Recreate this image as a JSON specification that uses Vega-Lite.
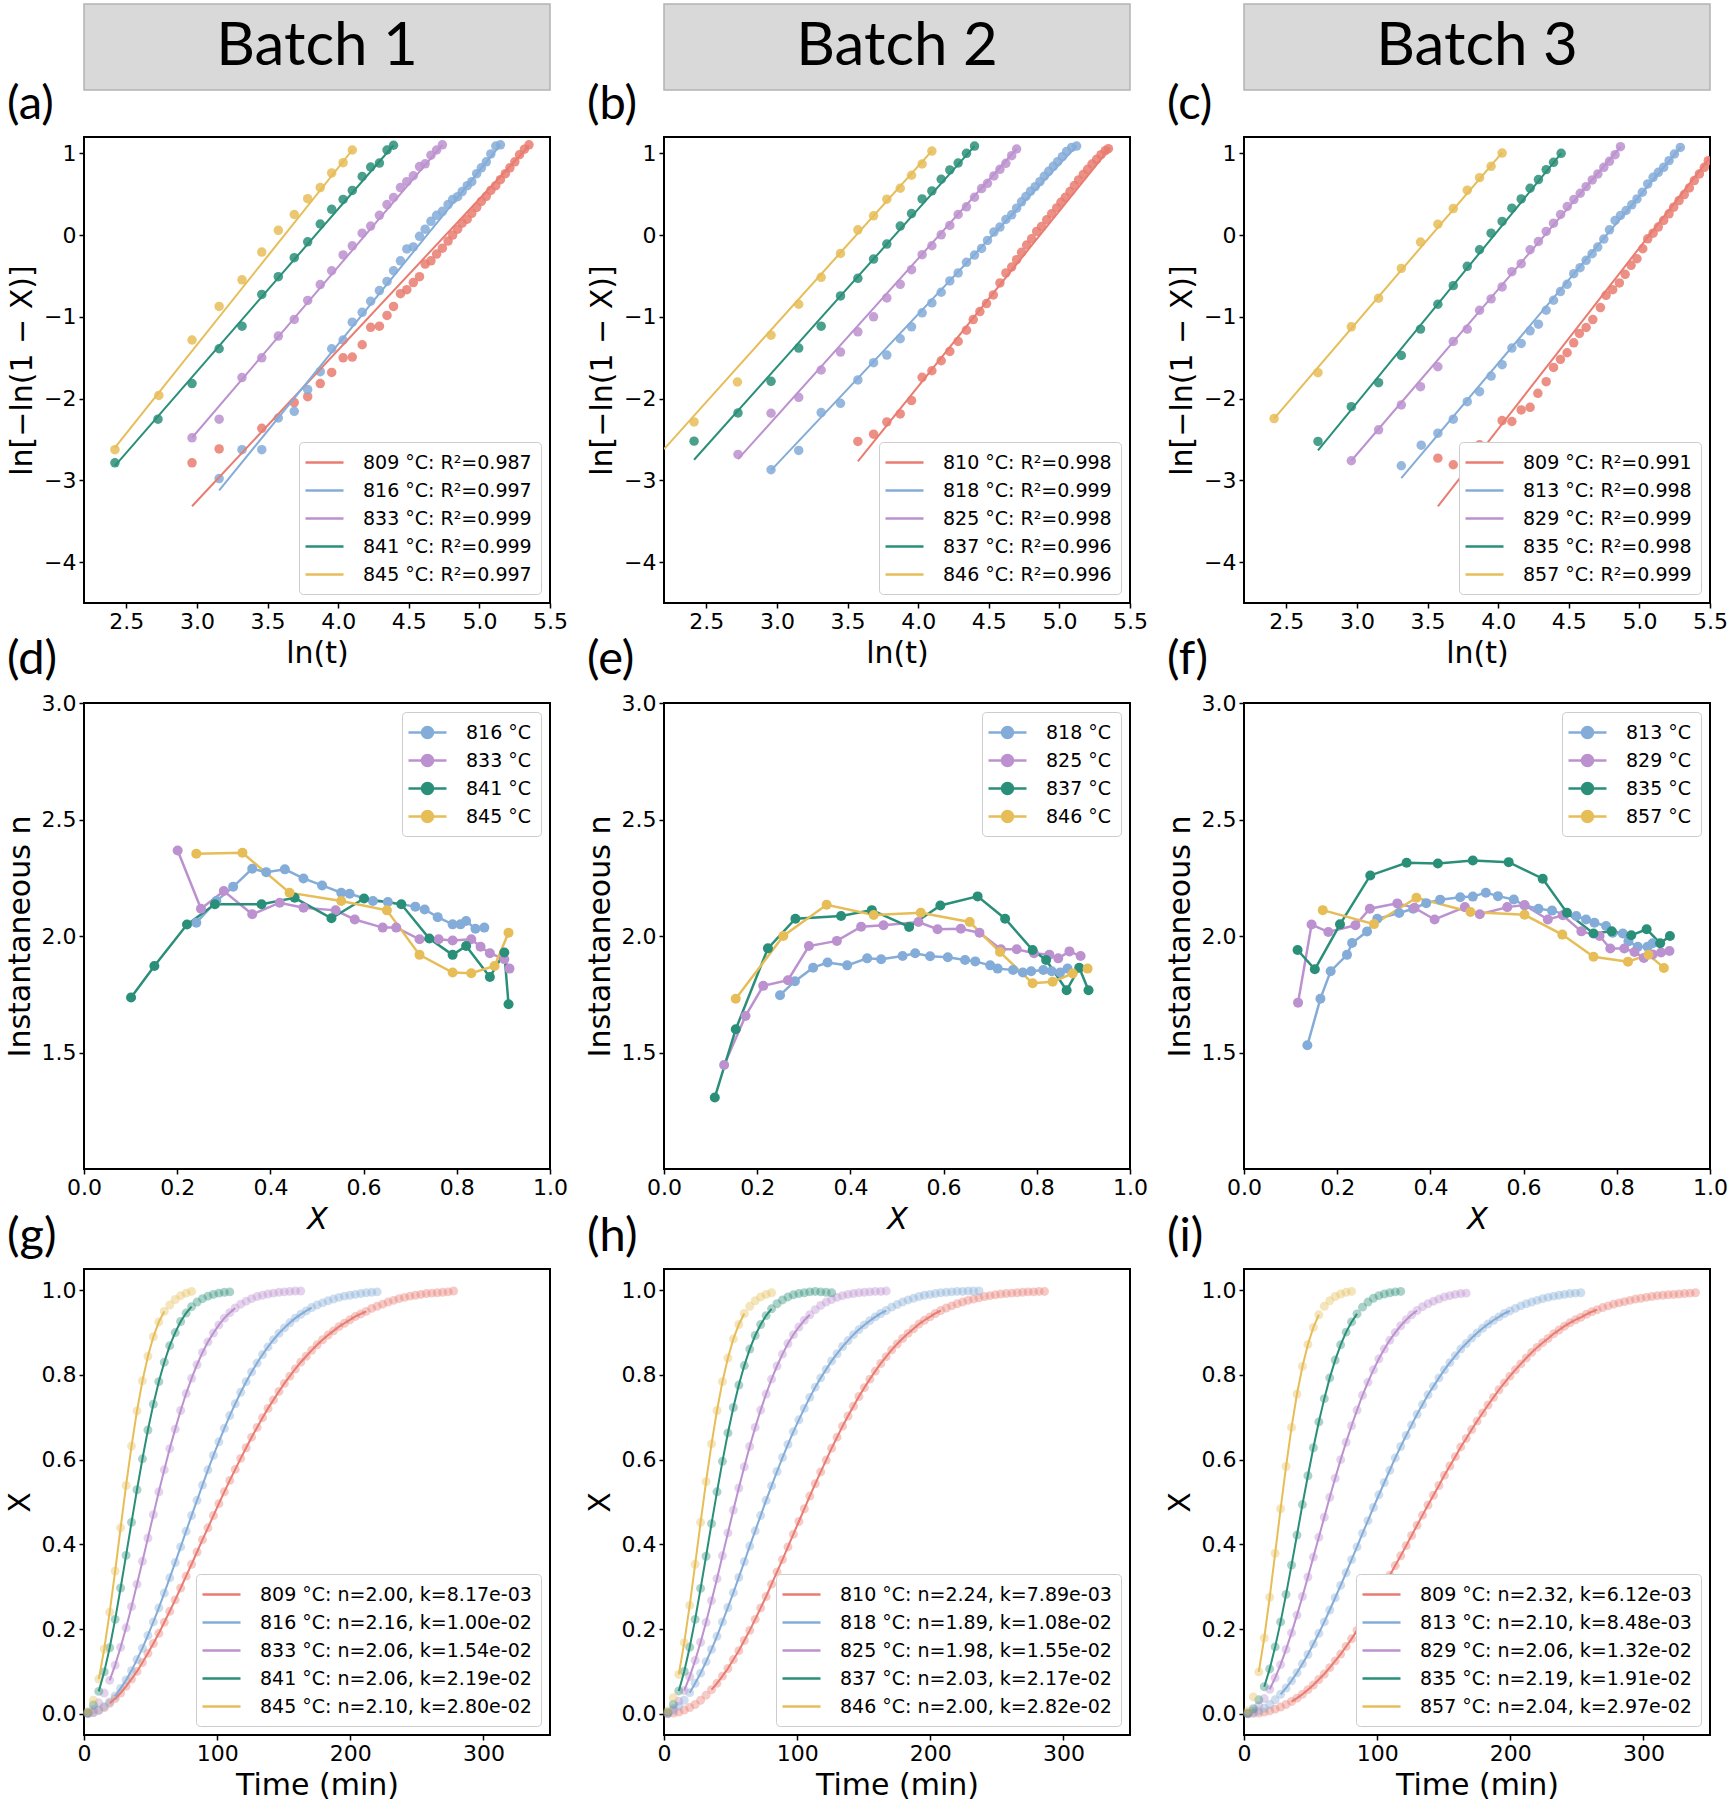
{
  "$schema": "https://vega.github.io/schema/vega-lite/v6.json",
  "background": "white",
  "padding": {"left": 4, "top": 3, "right": 5, "bottom": 5},
  "config": {
    "font": "DejaVu Sans",
    "view": {"stroke": "black", "strokeWidth": 2},
    "axis": {"grid": false, "domain": false, "tickColor": "black", "tickSize": 5, "tickWidth": 1.5, "labelFont": "DejaVu Sans", "labelFontSize": 22, "labelColor": "black", "labelPadding": 3, "labelFlush": false, "labelOverlap": false, "labelBound": false, "titleFont": "DejaVu Sans", "titleFontSize": 30, "titleFontWeight": "normal", "titleColor": "black", "titlePadding": 6},
    "legend": {"labelFont": "DejaVu Sans", "labelFontSize": 19, "labelColor": "black", "fillColor": "white", "strokeColor": "#cccccc", "cornerRadius": 4, "padding": 9, "rowPadding": 6, "labelOffset": 27, "symbolOffset": 5, "symbolSize": 400, "offset": 9, "labelLimit": 400},
    "title": {"font": "Lato", "fontSize": 47, "fontWeight": "normal", "anchor": "start", "frame": "group", "baseline": "bottom", "offset": 8, "dx": -77, "color": "black"}
  },
  "datasets": {
    "AF": [
      {"p":"a","s":0,"x":2.965,"y":-3.317},{"p":"a","s":0,"x":5.351,"y":1.09},
      {"p":"a","s":1,"x":3.157,"y":-3.123},{"p":"a","s":1,"x":5.149,"y":1.104},
      {"p":"a","s":2,"x":2.965,"y":-2.479},{"p":"a","s":2,"x":4.738,"y":1.104},
      {"p":"a","s":3,"x":2.419,"y":-2.823},{"p":"a","s":3,"x":4.392,"y":1.099},
      {"p":"a","s":4,"x":2.419,"y":-2.6},{"p":"a","s":4,"x":4.1,"y":1.041},
      {"p":"b","s":0,"x":3.573,"y":-2.768},{"p":"b","s":0,"x":5.358,"y":1.065},
      {"p":"b","s":1,"x":2.958,"y":-2.878},{"p":"b","s":1,"x":5.122,"y":1.089},
      {"p":"b","s":2,"x":2.724,"y":-2.74},{"p":"b","s":2,"x":4.697,"y":1.053},
      {"p":"b","s":3,"x":2.413,"y":-2.748},{"p":"b","s":3,"x":4.399,"y":1.089},
      {"p":"b","s":4,"x":2.2,"y":-2.618},{"p":"b","s":4,"x":4.097,"y":1.03},
      {"p":"c","s":0,"x":3.573,"y":-3.317},{"p":"c","s":0,"x":5.5,"y":0.951},
      {"p":"c","s":1,"x":3.314,"y":-2.972},{"p":"c","s":1,"x":5.295,"y":1.08},
      {"p":"c","s":2,"x":2.96,"y":-2.76},{"p":"c","s":2,"x":4.866,"y":1.08},
      {"p":"c","s":3,"x":2.724,"y":-2.634},{"p":"c","s":3,"x":4.446,"y":1.0},
      {"p":"c","s":4,"x":2.413,"y":-2.244},{"p":"c","s":4,"x":4.028,"y":1.01}
    ],
    "A": [
      {"p":"a","s":0,"x":2.965,"y":-2.785},{"p":"a","s":0,"x":3.157,"y":-2.615},{"p":"a","s":0,"x":3.459,"y":-2.363},{"p":"a","s":0,"x":3.689,"y":-2.048},{"p":"a","s":0,"x":3.784,"y":-1.976},{"p":"a","s":0,"x":3.873,"y":-1.816},{"p":"a","s":0,"x":3.954,"y":-1.68},{"p":"a","s":0,"x":4.035,"y":-1.501},{"p":"a","s":0,"x":4.1,"y":-1.492},{"p":"a","s":0,"x":4.17,"y":-1.341},{"p":"a","s":0,"x":4.23,"y":-1.128},{"p":"a","s":0,"x":4.292,"y":-1.114},{"p":"a","s":0,"x":4.346,"y":-0.983},{"p":"a","s":0,"x":4.392,"y":-0.872},{"p":"a","s":0,"x":4.441,"y":-0.717},{"p":"a","s":0,"x":4.486,"y":-0.668},{"p":"a","s":0,"x":4.532,"y":-0.581},{"p":"a","s":0,"x":4.576,"y":-0.508},{"p":"a","s":0,"x":4.616,"y":-0.354},{"p":"a","s":0,"x":4.657,"y":-0.315},{"p":"a","s":0,"x":4.697,"y":-0.232},{"p":"a","s":0,"x":4.738,"y":-0.16},{"p":"a","s":0,"x":4.778,"y":-0.073},{"p":"a","s":0,"x":4.811,"y":0.0},{"p":"a","s":0,"x":4.846,"y":0.073},{"p":"a","s":0,"x":4.878,"y":0.145},{"p":"a","s":0,"x":4.914,"y":0.194},{"p":"a","s":0,"x":4.946,"y":0.266},{"p":"a","s":0,"x":4.981,"y":0.339},{"p":"a","s":0,"x":5.014,"y":0.412},{"p":"a","s":0,"x":5.049,"y":0.475},{"p":"a","s":0,"x":5.081,"y":0.547},{"p":"a","s":0,"x":5.116,"y":0.605},{"p":"a","s":0,"x":5.149,"y":0.678},{"p":"a","s":0,"x":5.184,"y":0.751},{"p":"a","s":0,"x":5.216,"y":0.823},{"p":"a","s":0,"x":5.251,"y":0.896},{"p":"a","s":0,"x":5.284,"y":0.983},{"p":"a","s":0,"x":5.319,"y":1.051},{"p":"a","s":0,"x":5.351,"y":1.104},
      {"p":"a","s":1,"x":3.157,"y":-2.978},{"p":"a","s":1,"x":3.319,"y":-2.625},{"p":"a","s":1,"x":3.459,"y":-2.625},{"p":"a","s":1,"x":3.576,"y":-2.237},{"p":"a","s":1,"x":3.689,"y":-2.155},{"p":"a","s":1,"x":3.784,"y":-1.889},{"p":"a","s":1,"x":3.873,"y":-1.671},{"p":"a","s":1,"x":3.954,"y":-1.39},{"p":"a","s":1,"x":4.035,"y":-1.283},{"p":"a","s":1,"x":4.1,"y":-1.065},{"p":"a","s":1,"x":4.17,"y":-0.944},{"p":"a","s":1,"x":4.23,"y":-0.809},{"p":"a","s":1,"x":4.292,"y":-0.678},{"p":"a","s":1,"x":4.346,"y":-0.567},{"p":"a","s":1,"x":4.392,"y":-0.436},{"p":"a","s":1,"x":4.441,"y":-0.315},{"p":"a","s":1,"x":4.486,"y":-0.169},{"p":"a","s":1,"x":4.532,"y":-0.145},{"p":"a","s":1,"x":4.576,"y":-0.015},{"p":"a","s":1,"x":4.616,"y":0.073},{"p":"a","s":1,"x":4.657,"y":0.169},{"p":"a","s":1,"x":4.697,"y":0.242},{"p":"a","s":1,"x":4.738,"y":0.291},{"p":"a","s":1,"x":4.778,"y":0.373},{"p":"a","s":1,"x":4.811,"y":0.436},{"p":"a","s":1,"x":4.846,"y":0.47},{"p":"a","s":1,"x":4.878,"y":0.533},{"p":"a","s":1,"x":4.914,"y":0.605},{"p":"a","s":1,"x":4.946,"y":0.654},{"p":"a","s":1,"x":4.981,"y":0.751},{"p":"a","s":1,"x":5.014,"y":0.823},{"p":"a","s":1,"x":5.049,"y":0.896},{"p":"a","s":1,"x":5.081,"y":0.993},{"p":"a","s":1,"x":5.116,"y":1.09},{"p":"a","s":1,"x":5.149,"y":1.104},
      {"p":"a","s":2,"x":2.965,"y":-2.479},{"p":"a","s":2,"x":3.157,"y":-2.252},{"p":"a","s":2,"x":3.319,"y":-1.743},{"p":"a","s":2,"x":3.459,"y":-1.501},{"p":"a","s":2,"x":3.576,"y":-1.235},{"p":"a","s":2,"x":3.689,"y":-1.031},{"p":"a","s":2,"x":3.784,"y":-0.799},{"p":"a","s":2,"x":3.873,"y":-0.605},{"p":"a","s":2,"x":3.954,"y":-0.436},{"p":"a","s":2,"x":4.035,"y":-0.242},{"p":"a","s":2,"x":4.1,"y":-0.131},{"p":"a","s":2,"x":4.17,"y":0.024},{"p":"a","s":2,"x":4.23,"y":0.111},{"p":"a","s":2,"x":4.292,"y":0.242},{"p":"a","s":2,"x":4.346,"y":0.373},{"p":"a","s":2,"x":4.392,"y":0.46},{"p":"a","s":2,"x":4.441,"y":0.581},{"p":"a","s":2,"x":4.486,"y":0.654},{"p":"a","s":2,"x":4.532,"y":0.726},{"p":"a","s":2,"x":4.576,"y":0.838},{"p":"a","s":2,"x":4.616,"y":0.872},{"p":"a","s":2,"x":4.657,"y":0.978},{"p":"a","s":2,"x":4.697,"y":1.041},{"p":"a","s":2,"x":4.738,"y":1.104},
      {"p":"a","s":3,"x":2.419,"y":-2.785},{"p":"a","s":3,"x":2.724,"y":-2.252},{"p":"a","s":3,"x":2.965,"y":-1.816},{"p":"a","s":3,"x":3.157,"y":-1.39},{"p":"a","s":3,"x":3.319,"y":-1.114},{"p":"a","s":3,"x":3.459,"y":-0.726},{"p":"a","s":3,"x":3.576,"y":-0.508},{"p":"a","s":3,"x":3.689,"y":-0.276},{"p":"a","s":3,"x":3.784,"y":-0.082},{"p":"a","s":3,"x":3.873,"y":0.136},{"p":"a","s":3,"x":3.954,"y":0.315},{"p":"a","s":3,"x":4.035,"y":0.436},{"p":"a","s":3,"x":4.1,"y":0.547},{"p":"a","s":3,"x":4.17,"y":0.717},{"p":"a","s":3,"x":4.23,"y":0.833},{"p":"a","s":3,"x":4.292,"y":0.881},{"p":"a","s":3,"x":4.346,"y":1.041},{"p":"a","s":3,"x":4.392,"y":1.099},
      {"p":"a","s":4,"x":2.419,"y":-2.625},{"p":"a","s":4,"x":2.73,"y":-1.961},{"p":"a","s":4,"x":2.965,"y":-1.283},{"p":"a","s":4,"x":3.157,"y":-0.872},{"p":"a","s":4,"x":3.319,"y":-0.547},{"p":"a","s":4,"x":3.459,"y":-0.208},{"p":"a","s":4,"x":3.576,"y":0.058},{"p":"a","s":4,"x":3.689,"y":0.252},{"p":"a","s":4,"x":3.784,"y":0.446},{"p":"a","s":4,"x":3.873,"y":0.581},{"p":"a","s":4,"x":3.954,"y":0.76},{"p":"a","s":4,"x":4.035,"y":0.886},{"p":"a","s":4,"x":4.1,"y":1.041},
      {"p":"b","s":0,"x":3.573,"y":-2.524},{"p":"b","s":0,"x":3.684,"y":-2.435},{"p":"b","s":0,"x":3.778,"y":-2.285},{"p":"b","s":0,"x":3.873,"y":-2.187},{"p":"b","s":0,"x":3.953,"y":-2.024},{"p":"b","s":0,"x":4.028,"y":-1.74},{"p":"b","s":0,"x":4.097,"y":-1.659},{"p":"b","s":0,"x":4.163,"y":-1.537},{"p":"b","s":0,"x":4.224,"y":-1.423},{"p":"b","s":0,"x":4.283,"y":-1.301},{"p":"b","s":0,"x":4.342,"y":-1.163},{"p":"b","s":0,"x":4.39,"y":-1.033},{"p":"b","s":0,"x":4.437,"y":-0.935},{"p":"b","s":0,"x":4.484,"y":-0.837},{"p":"b","s":0,"x":4.532,"y":-0.732},{"p":"b","s":0,"x":4.579,"y":-0.585},{"p":"b","s":0,"x":4.621,"y":-0.463},{"p":"b","s":0,"x":4.662,"y":-0.39},{"p":"b","s":0,"x":4.697,"y":-0.301},{"p":"b","s":0,"x":4.732,"y":-0.211},{"p":"b","s":0,"x":4.768,"y":-0.122},{"p":"b","s":0,"x":4.803,"y":-0.045},{"p":"b","s":0,"x":4.839,"y":0.045},{"p":"b","s":0,"x":4.874,"y":0.106},{"p":"b","s":0,"x":4.91,"y":0.187},{"p":"b","s":0,"x":4.945,"y":0.26},{"p":"b","s":0,"x":4.981,"y":0.333},{"p":"b","s":0,"x":5.011,"y":0.402},{"p":"b","s":0,"x":5.042,"y":0.463},{"p":"b","s":0,"x":5.075,"y":0.533},{"p":"b","s":0,"x":5.106,"y":0.606},{"p":"b","s":0,"x":5.136,"y":0.675},{"p":"b","s":0,"x":5.169,"y":0.74},{"p":"b","s":0,"x":5.2,"y":0.805},{"p":"b","s":0,"x":5.231,"y":0.87},{"p":"b","s":0,"x":5.264,"y":0.927},{"p":"b","s":0,"x":5.295,"y":0.984},{"p":"b","s":0,"x":5.325,"y":1.033},{"p":"b","s":0,"x":5.347,"y":1.057},
      {"p":"b","s":1,"x":2.958,"y":-2.87},{"p":"b","s":1,"x":3.154,"y":-2.634},{"p":"b","s":1,"x":3.313,"y":-2.171},{"p":"b","s":1,"x":3.45,"y":-2.057},{"p":"b","s":1,"x":3.573,"y":-1.772},{"p":"b","s":1,"x":3.684,"y":-1.561},{"p":"b","s":1,"x":3.778,"y":-1.467},{"p":"b","s":1,"x":3.873,"y":-1.268},{"p":"b","s":1,"x":3.953,"y":-1.122},{"p":"b","s":1,"x":4.028,"y":-0.951},{"p":"b","s":1,"x":4.097,"y":-0.829},{"p":"b","s":1,"x":4.163,"y":-0.699},{"p":"b","s":1,"x":4.224,"y":-0.561},{"p":"b","s":1,"x":4.283,"y":-0.463},{"p":"b","s":1,"x":4.342,"y":-0.333},{"p":"b","s":1,"x":4.399,"y":-0.244},{"p":"b","s":1,"x":4.449,"y":-0.163},{"p":"b","s":1,"x":4.491,"y":-0.065},{"p":"b","s":1,"x":4.536,"y":0.037},{"p":"b","s":1,"x":4.579,"y":0.098},{"p":"b","s":1,"x":4.621,"y":0.191},{"p":"b","s":1,"x":4.662,"y":0.248},{"p":"b","s":1,"x":4.697,"y":0.329},{"p":"b","s":1,"x":4.732,"y":0.407},{"p":"b","s":1,"x":4.763,"y":0.472},{"p":"b","s":1,"x":4.796,"y":0.537},{"p":"b","s":1,"x":4.829,"y":0.593},{"p":"b","s":1,"x":4.862,"y":0.654},{"p":"b","s":1,"x":4.893,"y":0.72},{"p":"b","s":1,"x":4.924,"y":0.78},{"p":"b","s":1,"x":4.957,"y":0.841},{"p":"b","s":1,"x":4.988,"y":0.898},{"p":"b","s":1,"x":5.021,"y":0.959},{"p":"b","s":1,"x":5.051,"y":1.024},{"p":"b","s":1,"x":5.087,"y":1.073},{"p":"b","s":1,"x":5.122,"y":1.089},
      {"p":"b","s":2,"x":2.724,"y":-2.683},{"p":"b","s":2,"x":2.958,"y":-2.179},{"p":"b","s":2,"x":3.154,"y":-1.984},{"p":"b","s":2,"x":3.313,"y":-1.65},{"p":"b","s":2,"x":3.45,"y":-1.431},{"p":"b","s":2,"x":3.573,"y":-1.183},{"p":"b","s":2,"x":3.684,"y":-1.0},{"p":"b","s":2,"x":3.778,"y":-0.768},{"p":"b","s":2,"x":3.873,"y":-0.602},{"p":"b","s":2,"x":3.953,"y":-0.423},{"p":"b","s":2,"x":4.028,"y":-0.24},{"p":"b","s":2,"x":4.097,"y":-0.13},{"p":"b","s":2,"x":4.163,"y":0.004},{"p":"b","s":2,"x":4.224,"y":0.118},{"p":"b","s":2,"x":4.283,"y":0.252},{"p":"b","s":2,"x":4.342,"y":0.346},{"p":"b","s":2,"x":4.399,"y":0.463},{"p":"b","s":2,"x":4.449,"y":0.569},{"p":"b","s":2,"x":4.491,"y":0.634},{"p":"b","s":2,"x":4.536,"y":0.724},{"p":"b","s":2,"x":4.579,"y":0.805},{"p":"b","s":2,"x":4.621,"y":0.878},{"p":"b","s":2,"x":4.662,"y":0.972},{"p":"b","s":2,"x":4.697,"y":1.053},
      {"p":"b","s":3,"x":2.413,"y":-2.52},{"p":"b","s":3,"x":2.724,"y":-2.175},{"p":"b","s":3,"x":2.958,"y":-1.789},{"p":"b","s":3,"x":3.154,"y":-1.382},{"p":"b","s":3,"x":3.313,"y":-1.114},{"p":"b","s":3,"x":3.45,"y":-0.744},{"p":"b","s":3,"x":3.573,"y":-0.528},{"p":"b","s":3,"x":3.684,"y":-0.293},{"p":"b","s":3,"x":3.778,"y":-0.11},{"p":"b","s":3,"x":3.873,"y":0.11},{"p":"b","s":3,"x":3.953,"y":0.264},{"p":"b","s":3,"x":4.028,"y":0.443},{"p":"b","s":3,"x":4.097,"y":0.541},{"p":"b","s":3,"x":4.163,"y":0.683},{"p":"b","s":3,"x":4.224,"y":0.797},{"p":"b","s":3,"x":4.283,"y":0.882},{"p":"b","s":3,"x":4.342,"y":1.0},{"p":"b","s":3,"x":4.399,"y":1.089},
      {"p":"b","s":4,"x":2.413,"y":-2.285},{"p":"b","s":4,"x":2.72,"y":-1.797},{"p":"b","s":4,"x":2.958,"y":-1.224},{"p":"b","s":4,"x":3.154,"y":-0.846},{"p":"b","s":4,"x":3.313,"y":-0.516},{"p":"b","s":4,"x":3.45,"y":-0.224},{"p":"b","s":4,"x":3.573,"y":0.065},{"p":"b","s":4,"x":3.684,"y":0.236},{"p":"b","s":4,"x":3.778,"y":0.439},{"p":"b","s":4,"x":3.873,"y":0.573},{"p":"b","s":4,"x":3.953,"y":0.732},{"p":"b","s":4,"x":4.028,"y":0.87},{"p":"b","s":4,"x":4.097,"y":1.028},
      {"p":"c","s":0,"x":3.573,"y":-2.728},{"p":"c","s":0,"x":3.682,"y":-2.809},{"p":"c","s":0,"x":3.868,"y":-2.565},{"p":"c","s":0,"x":3.95,"y":-2.606},{"p":"c","s":0,"x":4.028,"y":-2.268},{"p":"c","s":0,"x":4.097,"y":-2.28},{"p":"c","s":0,"x":4.163,"y":-2.138},{"p":"c","s":0,"x":4.226,"y":-2.106},{"p":"c","s":0,"x":4.281,"y":-1.935},{"p":"c","s":0,"x":4.34,"y":-1.793},{"p":"c","s":0,"x":4.392,"y":-1.618},{"p":"c","s":0,"x":4.441,"y":-1.52},{"p":"c","s":0,"x":4.488,"y":-1.439},{"p":"c","s":0,"x":4.535,"y":-1.317},{"p":"c","s":0,"x":4.575,"y":-1.203},{"p":"c","s":0,"x":4.623,"y":-1.13},{"p":"c","s":0,"x":4.67,"y":-1.033},{"p":"c","s":0,"x":4.724,"y":-0.886},{"p":"c","s":0,"x":4.764,"y":-0.736},{"p":"c","s":0,"x":4.811,"y":-0.667},{"p":"c","s":0,"x":4.858,"y":-0.585},{"p":"c","s":0,"x":4.899,"y":-0.48},{"p":"c","s":0,"x":4.941,"y":-0.37},{"p":"c","s":0,"x":4.983,"y":-0.289},{"p":"c","s":0,"x":5.024,"y":-0.167},{"p":"c","s":0,"x":5.059,"y":-0.045},{"p":"c","s":0,"x":5.097,"y":0.024},{"p":"c","s":0,"x":5.134,"y":0.098},{"p":"c","s":0,"x":5.172,"y":0.179},{"p":"c","s":0,"x":5.21,"y":0.26},{"p":"c","s":0,"x":5.243,"y":0.341},{"p":"c","s":0,"x":5.281,"y":0.423},{"p":"c","s":0,"x":5.318,"y":0.496},{"p":"c","s":0,"x":5.354,"y":0.577},{"p":"c","s":0,"x":5.389,"y":0.667},{"p":"c","s":0,"x":5.425,"y":0.748},{"p":"c","s":0,"x":5.46,"y":0.829},{"p":"c","s":0,"x":5.488,"y":0.911},
      {"p":"c","s":1,"x":3.314,"y":-2.821},{"p":"c","s":1,"x":3.455,"y":-2.569},{"p":"c","s":1,"x":3.573,"y":-2.423},{"p":"c","s":1,"x":3.682,"y":-2.252},{"p":"c","s":1,"x":3.781,"y":-2.037},{"p":"c","s":1,"x":3.868,"y":-1.915},{"p":"c","s":1,"x":3.95,"y":-1.724},{"p":"c","s":1,"x":4.028,"y":-1.585},{"p":"c","s":1,"x":4.097,"y":-1.382},{"p":"c","s":1,"x":4.163,"y":-1.325},{"p":"c","s":1,"x":4.226,"y":-1.171},{"p":"c","s":1,"x":4.285,"y":-1.089},{"p":"c","s":1,"x":4.34,"y":-0.919},{"p":"c","s":1,"x":4.392,"y":-0.797},{"p":"c","s":1,"x":4.441,"y":-0.691},{"p":"c","s":1,"x":4.488,"y":-0.602},{"p":"c","s":1,"x":4.535,"y":-0.472},{"p":"c","s":1,"x":4.58,"y":-0.398},{"p":"c","s":1,"x":4.623,"y":-0.309},{"p":"c","s":1,"x":4.665,"y":-0.228},{"p":"c","s":1,"x":4.705,"y":-0.146},{"p":"c","s":1,"x":4.748,"y":-0.049},{"p":"c","s":1,"x":4.788,"y":0.065},{"p":"c","s":1,"x":4.828,"y":0.179},{"p":"c","s":1,"x":4.866,"y":0.24},{"p":"c","s":1,"x":4.906,"y":0.301},{"p":"c","s":1,"x":4.946,"y":0.37},{"p":"c","s":1,"x":4.983,"y":0.443},{"p":"c","s":1,"x":5.021,"y":0.524},{"p":"c","s":1,"x":5.059,"y":0.626},{"p":"c","s":1,"x":5.097,"y":0.707},{"p":"c","s":1,"x":5.134,"y":0.768},{"p":"c","s":1,"x":5.172,"y":0.829},{"p":"c","s":1,"x":5.21,"y":0.911},{"p":"c","s":1,"x":5.248,"y":0.992},{"p":"c","s":1,"x":5.29,"y":1.073},
      {"p":"c","s":2,"x":2.96,"y":-2.76},{"p":"c","s":2,"x":3.153,"y":-2.382},{"p":"c","s":2,"x":3.314,"y":-2.077},{"p":"c","s":2,"x":3.45,"y":-1.854},{"p":"c","s":2,"x":3.573,"y":-1.61},{"p":"c","s":2,"x":3.682,"y":-1.301},{"p":"c","s":2,"x":3.781,"y":-1.15},{"p":"c","s":2,"x":3.868,"y":-0.919},{"p":"c","s":2,"x":3.95,"y":-0.78},{"p":"c","s":2,"x":4.028,"y":-0.634},{"p":"c","s":2,"x":4.097,"y":-0.447},{"p":"c","s":2,"x":4.163,"y":-0.35},{"p":"c","s":2,"x":4.226,"y":-0.179},{"p":"c","s":2,"x":4.285,"y":-0.077},{"p":"c","s":2,"x":4.34,"y":0.045},{"p":"c","s":2,"x":4.392,"y":0.146},{"p":"c","s":2,"x":4.442,"y":0.252},{"p":"c","s":2,"x":4.489,"y":0.35},{"p":"c","s":2,"x":4.536,"y":0.435},{"p":"c","s":2,"x":4.581,"y":0.512},{"p":"c","s":2,"x":4.623,"y":0.593},{"p":"c","s":2,"x":4.666,"y":0.675},{"p":"c","s":2,"x":4.706,"y":0.748},{"p":"c","s":2,"x":4.748,"y":0.829},{"p":"c","s":2,"x":4.788,"y":0.902},{"p":"c","s":2,"x":4.828,"y":0.984},{"p":"c","s":2,"x":4.866,"y":1.081},
      {"p":"c","s":3,"x":2.724,"y":-2.524},{"p":"c","s":3,"x":2.96,"y":-2.098},{"p":"c","s":3,"x":3.153,"y":-1.805},{"p":"c","s":3,"x":3.314,"y":-1.472},{"p":"c","s":3,"x":3.45,"y":-1.15},{"p":"c","s":3,"x":3.573,"y":-0.846},{"p":"c","s":3,"x":3.682,"y":-0.618},{"p":"c","s":3,"x":3.781,"y":-0.382},{"p":"c","s":3,"x":3.868,"y":-0.179},{"p":"c","s":3,"x":3.95,"y":0.024},{"p":"c","s":3,"x":4.028,"y":0.167},{"p":"c","s":3,"x":4.097,"y":0.329},{"p":"c","s":3,"x":4.163,"y":0.443},{"p":"c","s":3,"x":4.226,"y":0.573},{"p":"c","s":3,"x":4.285,"y":0.679},{"p":"c","s":3,"x":4.34,"y":0.801},{"p":"c","s":3,"x":4.392,"y":0.89},{"p":"c","s":3,"x":4.446,"y":1.0},
      {"p":"c","s":4,"x":2.413,"y":-2.244},{"p":"c","s":4,"x":2.724,"y":-1.683},{"p":"c","s":4,"x":2.96,"y":-1.122},{"p":"c","s":4,"x":3.153,"y":-0.772},{"p":"c","s":4,"x":3.314,"y":-0.407},{"p":"c","s":4,"x":3.45,"y":-0.085},{"p":"c","s":4,"x":3.573,"y":0.134},{"p":"c","s":4,"x":3.682,"y":0.325},{"p":"c","s":4,"x":3.781,"y":0.549},{"p":"c","s":4,"x":3.868,"y":0.703},{"p":"c","s":4,"x":3.95,"y":0.841},{"p":"c","s":4,"x":4.028,"y":1.004}
    ],
    "N": [
      {"p":"d","s":1,"x":0.241,"y":2.057},{"p":"d","s":1,"x":0.284,"y":2.15},{"p":"d","s":1,"x":0.32,"y":2.211},{"p":"d","s":1,"x":0.361,"y":2.289},{"p":"d","s":1,"x":0.391,"y":2.274},{"p":"d","s":1,"x":0.431,"y":2.286},{"p":"d","s":1,"x":0.471,"y":2.247},{"p":"d","s":1,"x":0.511,"y":2.217},{"p":"d","s":1,"x":0.552,"y":2.186},{"p":"d","s":1,"x":0.57,"y":2.181},{"p":"d","s":1,"x":0.62,"y":2.15},{"p":"d","s":1,"x":0.652,"y":2.146},{"p":"d","s":1,"x":0.711,"y":2.126},{"p":"d","s":1,"x":0.731,"y":2.114},{"p":"d","s":1,"x":0.759,"y":2.081},{"p":"d","s":1,"x":0.791,"y":2.05},{"p":"d","s":1,"x":0.808,"y":2.05},{"p":"d","s":1,"x":0.82,"y":2.064},{"p":"d","s":1,"x":0.84,"y":2.031},{"p":"d","s":1,"x":0.859,"y":2.036},
      {"p":"d","s":2,"x":0.201,"y":2.367},{"p":"d","s":2,"x":0.251,"y":2.117},{"p":"d","s":2,"x":0.3,"y":2.193},{"p":"d","s":2,"x":0.361,"y":2.093},{"p":"d","s":2,"x":0.42,"y":2.143},{"p":"d","s":2,"x":0.471,"y":2.121},{"p":"d","s":2,"x":0.54,"y":2.11},{"p":"d","s":2,"x":0.581,"y":2.071},{"p":"d","s":2,"x":0.641,"y":2.036},{"p":"d","s":2,"x":0.67,"y":2.036},{"p":"d","s":2,"x":0.72,"y":1.986},{"p":"d","s":2,"x":0.761,"y":1.986},{"p":"d","s":2,"x":0.791,"y":1.981},{"p":"d","s":2,"x":0.831,"y":1.986},{"p":"d","s":2,"x":0.851,"y":1.954},{"p":"d","s":2,"x":0.871,"y":1.926},{"p":"d","s":2,"x":0.902,"y":1.9},{"p":"d","s":2,"x":0.913,"y":1.86},
      {"p":"d","s":3,"x":0.101,"y":1.736},{"p":"d","s":3,"x":0.151,"y":1.871},{"p":"d","s":3,"x":0.221,"y":2.049},{"p":"d","s":3,"x":0.281,"y":2.136},{"p":"d","s":3,"x":0.381,"y":2.136},{"p":"d","s":3,"x":0.452,"y":2.164},{"p":"d","s":3,"x":0.531,"y":2.076},{"p":"d","s":3,"x":0.601,"y":2.161},{"p":"d","s":3,"x":0.681,"y":2.136},{"p":"d","s":3,"x":0.741,"y":1.989},{"p":"d","s":3,"x":0.791,"y":1.919},{"p":"d","s":3,"x":0.82,"y":1.957},{"p":"d","s":3,"x":0.871,"y":1.824},{"p":"d","s":3,"x":0.902,"y":1.929},{"p":"d","s":3,"x":0.911,"y":1.707},
      {"p":"d","s":4,"x":0.241,"y":2.353},{"p":"d","s":4,"x":0.34,"y":2.357},{"p":"d","s":4,"x":0.441,"y":2.186},{"p":"d","s":4,"x":0.552,"y":2.15},{"p":"d","s":4,"x":0.65,"y":2.11},{"p":"d","s":4,"x":0.72,"y":1.919},{"p":"d","s":4,"x":0.791,"y":1.843},{"p":"d","s":4,"x":0.831,"y":1.84},{"p":"d","s":4,"x":0.881,"y":1.871},{"p":"d","s":4,"x":0.911,"y":2.014},
      {"p":"e","s":1,"x":0.249,"y":1.746},{"p":"e","s":1,"x":0.281,"y":1.806},{"p":"e","s":1,"x":0.32,"y":1.864},{"p":"e","s":1,"x":0.351,"y":1.886},{"p":"e","s":1,"x":0.393,"y":1.874},{"p":"e","s":1,"x":0.436,"y":1.904},{"p":"e","s":1,"x":0.466,"y":1.9},{"p":"e","s":1,"x":0.512,"y":1.914},{"p":"e","s":1,"x":0.539,"y":1.926},{"p":"e","s":1,"x":0.571,"y":1.913},{"p":"e","s":1,"x":0.609,"y":1.909},{"p":"e","s":1,"x":0.646,"y":1.897},{"p":"e","s":1,"x":0.668,"y":1.891},{"p":"e","s":1,"x":0.7,"y":1.874},{"p":"e","s":1,"x":0.716,"y":1.86},{"p":"e","s":1,"x":0.749,"y":1.854},{"p":"e","s":1,"x":0.77,"y":1.843},{"p":"e","s":1,"x":0.788,"y":1.849},{"p":"e","s":1,"x":0.814,"y":1.854},{"p":"e","s":1,"x":0.832,"y":1.849},{"p":"e","s":1,"x":0.85,"y":1.843},{"p":"e","s":1,"x":0.866,"y":1.86},
      {"p":"e","s":2,"x":0.129,"y":1.446},{"p":"e","s":2,"x":0.175,"y":1.657},{"p":"e","s":2,"x":0.213,"y":1.786},{"p":"e","s":2,"x":0.266,"y":1.81},{"p":"e","s":2,"x":0.311,"y":1.957},{"p":"e","s":2,"x":0.371,"y":1.979},{"p":"e","s":2,"x":0.423,"y":2.04},{"p":"e","s":2,"x":0.471,"y":2.046},{"p":"e","s":2,"x":0.546,"y":2.06},{"p":"e","s":2,"x":0.587,"y":2.029},{"p":"e","s":2,"x":0.637,"y":2.031},{"p":"e","s":2,"x":0.677,"y":2.014},{"p":"e","s":2,"x":0.723,"y":1.943},{"p":"e","s":2,"x":0.757,"y":1.943},{"p":"e","s":2,"x":0.794,"y":1.926},{"p":"e","s":2,"x":0.827,"y":1.92},{"p":"e","s":2,"x":0.846,"y":1.904},{"p":"e","s":2,"x":0.87,"y":1.934},{"p":"e","s":2,"x":0.894,"y":1.914},
      {"p":"e","s":3,"x":0.109,"y":1.307},{"p":"e","s":3,"x":0.154,"y":1.6},{"p":"e","s":3,"x":0.223,"y":1.947},{"p":"e","s":3,"x":0.282,"y":2.074},{"p":"e","s":3,"x":0.38,"y":2.086},{"p":"e","s":3,"x":0.446,"y":2.111},{"p":"e","s":3,"x":0.526,"y":2.039},{"p":"e","s":3,"x":0.593,"y":2.131},{"p":"e","s":3,"x":0.673,"y":2.17},{"p":"e","s":3,"x":0.732,"y":2.074},{"p":"e","s":3,"x":0.791,"y":1.94},{"p":"e","s":3,"x":0.82,"y":1.897},{"p":"e","s":3,"x":0.864,"y":1.767},{"p":"e","s":3,"x":0.891,"y":1.864},{"p":"e","s":3,"x":0.911,"y":1.767},
      {"p":"e","s":4,"x":0.154,"y":1.731},{"p":"e","s":4,"x":0.256,"y":2.0},{"p":"e","s":4,"x":0.349,"y":2.134},{"p":"e","s":4,"x":0.45,"y":2.09},{"p":"e","s":4,"x":0.551,"y":2.1},{"p":"e","s":4,"x":0.656,"y":2.06},{"p":"e","s":4,"x":0.721,"y":1.931},{"p":"e","s":4,"x":0.791,"y":1.797},{"p":"e","s":4,"x":0.834,"y":1.804},{"p":"e","s":4,"x":0.877,"y":1.839},{"p":"e","s":4,"x":0.909,"y":1.86},
      {"p":"f","s":1,"x":0.136,"y":1.531},{"p":"f","s":1,"x":0.164,"y":1.731},{"p":"f","s":1,"x":0.186,"y":1.849},{"p":"f","s":1,"x":0.221,"y":1.919},{"p":"f","s":1,"x":0.232,"y":1.97},{"p":"f","s":1,"x":0.264,"y":2.019},{"p":"f","s":1,"x":0.286,"y":2.074},{"p":"f","s":1,"x":0.333,"y":2.099},{"p":"f","s":1,"x":0.363,"y":2.117},{"p":"f","s":1,"x":0.391,"y":2.141},{"p":"f","s":1,"x":0.421,"y":2.156},{"p":"f","s":1,"x":0.464,"y":2.166},{"p":"f","s":1,"x":0.491,"y":2.169},{"p":"f","s":1,"x":0.519,"y":2.186},{"p":"f","s":1,"x":0.545,"y":2.171},{"p":"f","s":1,"x":0.579,"y":2.157},{"p":"f","s":1,"x":0.602,"y":2.131},{"p":"f","s":1,"x":0.632,"y":2.117},{"p":"f","s":1,"x":0.661,"y":2.109},{"p":"f","s":1,"x":0.688,"y":2.093},{"p":"f","s":1,"x":0.713,"y":2.086},{"p":"f","s":1,"x":0.734,"y":2.071},{"p":"f","s":1,"x":0.752,"y":2.057},{"p":"f","s":1,"x":0.777,"y":2.043},{"p":"f","s":1,"x":0.791,"y":2.014},{"p":"f","s":1,"x":0.813,"y":2.011},{"p":"f","s":1,"x":0.825,"y":1.977},{"p":"f","s":1,"x":0.845,"y":1.954},{"p":"f","s":1,"x":0.866,"y":1.954},{"p":"f","s":1,"x":0.877,"y":1.969},
      {"p":"f","s":2,"x":0.116,"y":1.714},{"p":"f","s":2,"x":0.145,"y":2.049},{"p":"f","s":2,"x":0.181,"y":2.017},{"p":"f","s":2,"x":0.239,"y":2.046},{"p":"f","s":2,"x":0.27,"y":2.117},{"p":"f","s":2,"x":0.329,"y":2.14},{"p":"f","s":2,"x":0.366,"y":2.121},{"p":"f","s":2,"x":0.409,"y":2.071},{"p":"f","s":2,"x":0.474,"y":2.124},{"p":"f","s":2,"x":0.506,"y":2.093},{"p":"f","s":2,"x":0.565,"y":2.124},{"p":"f","s":2,"x":0.602,"y":2.133},{"p":"f","s":2,"x":0.652,"y":2.071},{"p":"f","s":2,"x":0.684,"y":2.089},{"p":"f","s":2,"x":0.724,"y":2.02},{"p":"f","s":2,"x":0.763,"y":2.0},{"p":"f","s":2,"x":0.786,"y":1.946},{"p":"f","s":2,"x":0.816,"y":1.946},{"p":"f","s":2,"x":0.838,"y":1.931},{"p":"f","s":2,"x":0.858,"y":1.906},{"p":"f","s":2,"x":0.877,"y":1.921},{"p":"f","s":2,"x":0.895,"y":1.929},{"p":"f","s":2,"x":0.913,"y":1.936},
      {"p":"f","s":3,"x":0.115,"y":1.94},{"p":"f","s":3,"x":0.152,"y":1.857},{"p":"f","s":3,"x":0.206,"y":2.05},{"p":"f","s":3,"x":0.271,"y":2.26},{"p":"f","s":3,"x":0.349,"y":2.314},{"p":"f","s":3,"x":0.416,"y":2.311},{"p":"f","s":3,"x":0.491,"y":2.324},{"p":"f","s":3,"x":0.568,"y":2.317},{"p":"f","s":3,"x":0.641,"y":2.246},{"p":"f","s":3,"x":0.693,"y":2.1},{"p":"f","s":3,"x":0.75,"y":2.011},{"p":"f","s":3,"x":0.789,"y":2.02},{"p":"f","s":3,"x":0.831,"y":2.003},{"p":"f","s":3,"x":0.864,"y":2.029},{"p":"f","s":3,"x":0.893,"y":1.969},{"p":"f","s":3,"x":0.914,"y":2.0},
      {"p":"f","s":4,"x":0.169,"y":2.111},{"p":"f","s":4,"x":0.279,"y":2.051},{"p":"f","s":4,"x":0.37,"y":2.164},{"p":"f","s":4,"x":0.486,"y":2.103},{"p":"f","s":4,"x":0.602,"y":2.091},{"p":"f","s":4,"x":0.683,"y":2.006},{"p":"f","s":4,"x":0.75,"y":1.911},{"p":"f","s":4,"x":0.824,"y":1.89},{"p":"f","s":4,"x":0.868,"y":1.92},{"p":"f","s":4,"x":0.901,"y":1.863}
    ],
    "K": [
      {"p":"g","s":0,"t":2.9,"X":0.001},{"p":"g","s":0,"t":7.0,"X":0.003},{"p":"g","s":0,"t":11.1,"X":0.008},{"p":"g","s":0,"t":15.2,"X":0.015},{"p":"g","s":0,"t":19.3,"X":0.025,"f":1},{"p":"g","s":0,"t":23.4,"X":0.036,"f":1},{"p":"g","s":0,"t":27.5,"X":0.049,"f":1},{"p":"g","s":0,"t":31.6,"X":0.065,"f":1},{"p":"g","s":0,"t":35.7,"X":0.082,"f":1},{"p":"g","s":0,"t":39.8,"X":0.1,"f":1},{"p":"g","s":0,"t":43.9,"X":0.121,"f":1},{"p":"g","s":0,"t":48.0,"X":0.143,"f":1},{"p":"g","s":0,"t":52.1,"X":0.166,"f":1},{"p":"g","s":0,"t":56.2,"X":0.19,"f":1},{"p":"g","s":0,"t":60.3,"X":0.216,"f":1},{"p":"g","s":0,"t":64.4,"X":0.242,"f":1},{"p":"g","s":0,"t":68.5,"X":0.269,"f":1},{"p":"g","s":0,"t":72.6,"X":0.297,"f":1},{"p":"g","s":0,"t":76.7,"X":0.325,"f":1},{"p":"g","s":0,"t":80.8,"X":0.353,"f":1},{"p":"g","s":0,"t":84.9,"X":0.382,"f":1},{"p":"g","s":0,"t":89.0,"X":0.411,"f":1},{"p":"g","s":0,"t":93.1,"X":0.439,"f":1},{"p":"g","s":0,"t":97.2,"X":0.468,"f":1},{"p":"g","s":0,"t":101.3,"X":0.496,"f":1},{"p":"g","s":0,"t":105.4,"X":0.524,"f":1},{"p":"g","s":0,"t":109.5,"X":0.551,"f":1},{"p":"g","s":0,"t":113.6,"X":0.577,"f":1},{"p":"g","s":0,"t":117.7,"X":0.603,"f":1},{"p":"g","s":0,"t":121.8,"X":0.628,"f":1},{"p":"g","s":0,"t":125.9,"X":0.653,"f":1},{"p":"g","s":0,"t":130.0,"X":0.676,"f":1},{"p":"g","s":0,"t":134.1,"X":0.699,"f":1},{"p":"g","s":0,"t":138.2,"X":0.721,"f":1},{"p":"g","s":0,"t":142.3,"X":0.741,"f":1},{"p":"g","s":0,"t":146.4,"X":0.761,"f":1},{"p":"g","s":0,"t":150.5,"X":0.78,"f":1},{"p":"g","s":0,"t":154.6,"X":0.797,"f":1},{"p":"g","s":0,"t":158.7,"X":0.814,"f":1},{"p":"g","s":0,"t":162.8,"X":0.83,"f":1},{"p":"g","s":0,"t":166.9,"X":0.844,"f":1},{"p":"g","s":0,"t":171.0,"X":0.858,"f":1},{"p":"g","s":0,"t":175.1,"X":0.871,"f":1},{"p":"g","s":0,"t":179.2,"X":0.883,"f":1},{"p":"g","s":0,"t":183.3,"X":0.894,"f":1},{"p":"g","s":0,"t":187.4,"X":0.904,"f":1},{"p":"g","s":0,"t":191.5,"X":0.914,"f":1},{"p":"g","s":0,"t":195.6,"X":0.922,"f":1},{"p":"g","s":0,"t":199.7,"X":0.93,"f":1},{"p":"g","s":0,"t":203.8,"X":0.938,"f":1},{"p":"g","s":0,"t":207.9,"X":0.944,"f":1},{"p":"g","s":0,"t":212.0,"X":0.95,"f":1},{"p":"g","s":0,"t":216.1,"X":0.957},{"p":"g","s":0,"t":220.2,"X":0.962},{"p":"g","s":0,"t":224.3,"X":0.967},{"p":"g","s":0,"t":228.4,"X":0.972},{"p":"g","s":0,"t":232.5,"X":0.976},{"p":"g","s":0,"t":236.6,"X":0.98},{"p":"g","s":0,"t":240.7,"X":0.983},{"p":"g","s":0,"t":244.8,"X":0.986},{"p":"g","s":0,"t":248.9,"X":0.988},{"p":"g","s":0,"t":253.0,"X":0.99},{"p":"g","s":0,"t":257.1,"X":0.992},{"p":"g","s":0,"t":261.2,"X":0.993},{"p":"g","s":0,"t":265.3,"X":0.994},{"p":"g","s":0,"t":269.4,"X":0.995},{"p":"g","s":0,"t":273.5,"X":0.996},{"p":"g","s":0,"t":277.6,"X":0.998},
      {"p":"g","s":1,"t":2.9,"X":0.0},{"p":"g","s":1,"t":7.0,"X":0.003},{"p":"g","s":1,"t":11.1,"X":0.009},{"p":"g","s":1,"t":15.2,"X":0.017},{"p":"g","s":1,"t":19.3,"X":0.028},{"p":"g","s":1,"t":23.4,"X":0.042,"f":1},{"p":"g","s":1,"t":27.5,"X":0.06,"f":1},{"p":"g","s":1,"t":31.6,"X":0.08,"f":1},{"p":"g","s":1,"t":35.7,"X":0.102,"f":1},{"p":"g","s":1,"t":39.8,"X":0.128,"f":1},{"p":"g","s":1,"t":43.9,"X":0.155,"f":1},{"p":"g","s":1,"t":48.0,"X":0.185,"f":1},{"p":"g","s":1,"t":52.1,"X":0.217,"f":1},{"p":"g","s":1,"t":56.2,"X":0.25,"f":1},{"p":"g","s":1,"t":60.3,"X":0.285,"f":1},{"p":"g","s":1,"t":64.4,"X":0.321,"f":1},{"p":"g","s":1,"t":68.5,"X":0.357,"f":1},{"p":"g","s":1,"t":72.6,"X":0.394,"f":1},{"p":"g","s":1,"t":76.7,"X":0.431,"f":1},{"p":"g","s":1,"t":80.8,"X":0.468,"f":1},{"p":"g","s":1,"t":84.9,"X":0.504,"f":1},{"p":"g","s":1,"t":89.0,"X":0.54,"f":1},{"p":"g","s":1,"t":93.1,"X":0.576,"f":1},{"p":"g","s":1,"t":97.2,"X":0.61,"f":1},{"p":"g","s":1,"t":101.3,"X":0.642,"f":1},{"p":"g","s":1,"t":105.4,"X":0.674,"f":1},{"p":"g","s":1,"t":109.5,"X":0.704,"f":1},{"p":"g","s":1,"t":113.6,"X":0.732,"f":1},{"p":"g","s":1,"t":117.7,"X":0.759,"f":1},{"p":"g","s":1,"t":121.8,"X":0.784,"f":1},{"p":"g","s":1,"t":125.9,"X":0.807,"f":1},{"p":"g","s":1,"t":130.0,"X":0.828,"f":1},{"p":"g","s":1,"t":134.1,"X":0.848,"f":1},{"p":"g","s":1,"t":138.2,"X":0.866,"f":1},{"p":"g","s":1,"t":142.3,"X":0.883,"f":1},{"p":"g","s":1,"t":146.4,"X":0.898,"f":1},{"p":"g","s":1,"t":150.5,"X":0.911,"f":1},{"p":"g","s":1,"t":154.6,"X":0.923,"f":1},{"p":"g","s":1,"t":158.7,"X":0.934,"f":1},{"p":"g","s":1,"t":162.8,"X":0.943,"f":1},{"p":"g","s":1,"t":166.9,"X":0.951,"f":1},{"p":"g","s":1,"t":171.0,"X":0.959,"f":1},{"p":"g","s":1,"t":175.1,"X":0.965},{"p":"g","s":1,"t":179.2,"X":0.97},{"p":"g","s":1,"t":183.3,"X":0.975},{"p":"g","s":1,"t":187.4,"X":0.979},{"p":"g","s":1,"t":191.5,"X":0.983},{"p":"g","s":1,"t":195.6,"X":0.986},{"p":"g","s":1,"t":199.7,"X":0.988},{"p":"g","s":1,"t":203.8,"X":0.99},{"p":"g","s":1,"t":207.9,"X":0.992},{"p":"g","s":1,"t":212.0,"X":0.994},{"p":"g","s":1,"t":216.1,"X":0.995},{"p":"g","s":1,"t":220.2,"X":0.996},
      {"p":"g","s":2,"t":2.9,"X":0.002},{"p":"g","s":2,"t":7.0,"X":0.01},{"p":"g","s":2,"t":11.1,"X":0.026},{"p":"g","s":2,"t":15.2,"X":0.049},{"p":"g","s":2,"t":19.3,"X":0.079,"f":1},{"p":"g","s":2,"t":23.4,"X":0.115,"f":1},{"p":"g","s":2,"t":27.5,"X":0.157,"f":1},{"p":"g","s":2,"t":31.6,"X":0.203,"f":1},{"p":"g","s":2,"t":35.7,"X":0.253,"f":1},{"p":"g","s":2,"t":39.8,"X":0.306,"f":1},{"p":"g","s":2,"t":43.9,"X":0.36,"f":1},{"p":"g","s":2,"t":48.0,"X":0.415,"f":1},{"p":"g","s":2,"t":52.1,"X":0.47,"f":1},{"p":"g","s":2,"t":56.2,"X":0.524,"f":1},{"p":"g","s":2,"t":60.3,"X":0.576,"f":1},{"p":"g","s":2,"t":64.4,"X":0.626,"f":1},{"p":"g","s":2,"t":68.5,"X":0.672,"f":1},{"p":"g","s":2,"t":72.6,"X":0.716,"f":1},{"p":"g","s":2,"t":76.7,"X":0.756,"f":1},{"p":"g","s":2,"t":80.8,"X":0.792,"f":1},{"p":"g","s":2,"t":84.9,"X":0.824,"f":1},{"p":"g","s":2,"t":89.0,"X":0.853,"f":1},{"p":"g","s":2,"t":93.1,"X":0.878,"f":1},{"p":"g","s":2,"t":97.2,"X":0.899,"f":1},{"p":"g","s":2,"t":101.3,"X":0.918,"f":1},{"p":"g","s":2,"t":105.4,"X":0.934,"f":1},{"p":"g","s":2,"t":109.5,"X":0.947,"f":1},{"p":"g","s":2,"t":113.6,"X":0.958,"f":1},{"p":"g","s":2,"t":117.7,"X":0.967},{"p":"g","s":2,"t":121.8,"X":0.974},{"p":"g","s":2,"t":125.9,"X":0.98},{"p":"g","s":2,"t":130.0,"X":0.985},{"p":"g","s":2,"t":134.1,"X":0.988},{"p":"g","s":2,"t":138.2,"X":0.991},{"p":"g","s":2,"t":142.3,"X":0.993},{"p":"g","s":2,"t":146.4,"X":0.995},{"p":"g","s":2,"t":150.5,"X":0.996},{"p":"g","s":2,"t":154.6,"X":0.997},{"p":"g","s":2,"t":158.7,"X":0.998},{"p":"g","s":2,"t":162.8,"X":0.998},
      {"p":"g","s":3,"t":2.9,"X":0.003},{"p":"g","s":3,"t":7.0,"X":0.021},{"p":"g","s":3,"t":11.1,"X":0.053,"f":1},{"p":"g","s":3,"t":15.2,"X":0.099,"f":1},{"p":"g","s":3,"t":19.3,"X":0.156,"f":1},{"p":"g","s":3,"t":23.4,"X":0.223,"f":1},{"p":"g","s":3,"t":27.5,"X":0.297,"f":1},{"p":"g","s":3,"t":31.6,"X":0.374,"f":1},{"p":"g","s":3,"t":35.7,"X":0.452,"f":1},{"p":"g","s":3,"t":39.8,"X":0.529,"f":1},{"p":"g","s":3,"t":43.9,"X":0.602,"f":1},{"p":"g","s":3,"t":48.0,"X":0.67,"f":1},{"p":"g","s":3,"t":52.1,"X":0.731,"f":1},{"p":"g","s":3,"t":56.2,"X":0.784,"f":1},{"p":"g","s":3,"t":60.3,"X":0.83,"f":1},{"p":"g","s":3,"t":64.4,"X":0.869,"f":1},{"p":"g","s":3,"t":68.5,"X":0.9,"f":1},{"p":"g","s":3,"t":72.6,"X":0.926,"f":1},{"p":"g","s":3,"t":76.7,"X":0.946,"f":1},{"p":"g","s":3,"t":80.8,"X":0.961,"f":1},{"p":"g","s":3,"t":84.9,"X":0.972},{"p":"g","s":3,"t":89.0,"X":0.98},{"p":"g","s":3,"t":93.1,"X":0.986},{"p":"g","s":3,"t":97.2,"X":0.99},{"p":"g","s":3,"t":101.3,"X":0.993},{"p":"g","s":3,"t":105.4,"X":0.995},{"p":"g","s":3,"t":109.5,"X":0.996},
      {"p":"g","s":4,"t":2.9,"X":0.005},{"p":"g","s":4,"t":7.0,"X":0.032},{"p":"g","s":4,"t":11.1,"X":0.082,"f":1},{"p":"g","s":4,"t":15.2,"X":0.153,"f":1},{"p":"g","s":4,"t":19.3,"X":0.24,"f":1},{"p":"g","s":4,"t":23.4,"X":0.337,"f":1},{"p":"g","s":4,"t":27.5,"X":0.439,"f":1},{"p":"g","s":4,"t":31.6,"X":0.539,"f":1},{"p":"g","s":4,"t":35.7,"X":0.632,"f":1},{"p":"g","s":4,"t":39.8,"X":0.715,"f":1},{"p":"g","s":4,"t":43.9,"X":0.786,"f":1},{"p":"g","s":4,"t":48.0,"X":0.844,"f":1},{"p":"g","s":4,"t":52.1,"X":0.89,"f":1},{"p":"g","s":4,"t":56.2,"X":0.925,"f":1},{"p":"g","s":4,"t":60.3,"X":0.95,"f":1},{"p":"g","s":4,"t":64.4,"X":0.965},{"p":"g","s":4,"t":68.5,"X":0.978},{"p":"g","s":4,"t":72.6,"X":0.987},{"p":"g","s":4,"t":76.7,"X":0.993},{"p":"g","s":4,"t":80.8,"X":0.997},
      {"p":"h","s":0,"t":2.9,"X":0.0},{"p":"h","s":0,"t":7.0,"X":0.002},{"p":"h","s":0,"t":11.1,"X":0.004},{"p":"h","s":0,"t":15.2,"X":0.009},{"p":"h","s":0,"t":19.3,"X":0.015},{"p":"h","s":0,"t":23.4,"X":0.022},{"p":"h","s":0,"t":27.5,"X":0.032},{"p":"h","s":0,"t":31.6,"X":0.044},{"p":"h","s":0,"t":35.7,"X":0.057,"f":1},{"p":"h","s":0,"t":39.8,"X":0.072,"f":1},{"p":"h","s":0,"t":43.9,"X":0.089,"f":1},{"p":"h","s":0,"t":48.0,"X":0.107,"f":1},{"p":"h","s":0,"t":52.1,"X":0.128,"f":1},{"p":"h","s":0,"t":56.2,"X":0.149,"f":1},{"p":"h","s":0,"t":60.3,"X":0.173,"f":1},{"p":"h","s":0,"t":64.4,"X":0.197,"f":1},{"p":"h","s":0,"t":68.5,"X":0.223,"f":1},{"p":"h","s":0,"t":72.6,"X":0.25,"f":1},{"p":"h","s":0,"t":76.7,"X":0.277,"f":1},{"p":"h","s":0,"t":80.8,"X":0.306,"f":1},{"p":"h","s":0,"t":84.9,"X":0.335,"f":1},{"p":"h","s":0,"t":89.0,"X":0.364,"f":1},{"p":"h","s":0,"t":93.1,"X":0.394,"f":1},{"p":"h","s":0,"t":97.2,"X":0.424,"f":1},{"p":"h","s":0,"t":101.3,"X":0.454,"f":1},{"p":"h","s":0,"t":105.4,"X":0.484,"f":1},{"p":"h","s":0,"t":109.5,"X":0.514,"f":1},{"p":"h","s":0,"t":113.6,"X":0.543,"f":1},{"p":"h","s":0,"t":117.7,"X":0.571,"f":1},{"p":"h","s":0,"t":121.8,"X":0.599,"f":1},{"p":"h","s":0,"t":125.9,"X":0.627,"f":1},{"p":"h","s":0,"t":130.0,"X":0.653,"f":1},{"p":"h","s":0,"t":134.1,"X":0.679,"f":1},{"p":"h","s":0,"t":138.2,"X":0.703,"f":1},{"p":"h","s":0,"t":142.3,"X":0.726,"f":1},{"p":"h","s":0,"t":146.4,"X":0.749,"f":1},{"p":"h","s":0,"t":150.5,"X":0.77,"f":1},{"p":"h","s":0,"t":154.6,"X":0.79,"f":1},{"p":"h","s":0,"t":158.7,"X":0.809,"f":1},{"p":"h","s":0,"t":162.8,"X":0.827,"f":1},{"p":"h","s":0,"t":166.9,"X":0.843,"f":1},{"p":"h","s":0,"t":171.0,"X":0.859,"f":1},{"p":"h","s":0,"t":175.1,"X":0.873,"f":1},{"p":"h","s":0,"t":179.2,"X":0.886,"f":1},{"p":"h","s":0,"t":183.3,"X":0.898,"f":1},{"p":"h","s":0,"t":187.4,"X":0.909,"f":1},{"p":"h","s":0,"t":191.5,"X":0.92,"f":1},{"p":"h","s":0,"t":195.6,"X":0.929,"f":1},{"p":"h","s":0,"t":199.7,"X":0.937,"f":1},{"p":"h","s":0,"t":203.8,"X":0.945,"f":1},{"p":"h","s":0,"t":207.9,"X":0.952,"f":1},{"p":"h","s":0,"t":212.0,"X":0.958},{"p":"h","s":0,"t":216.1,"X":0.963},{"p":"h","s":0,"t":220.2,"X":0.968},{"p":"h","s":0,"t":224.3,"X":0.972},{"p":"h","s":0,"t":228.4,"X":0.976},{"p":"h","s":0,"t":232.5,"X":0.979},{"p":"h","s":0,"t":236.6,"X":0.982},{"p":"h","s":0,"t":240.7,"X":0.985},{"p":"h","s":0,"t":244.8,"X":0.987},{"p":"h","s":0,"t":248.9,"X":0.989},{"p":"h","s":0,"t":253.0,"X":0.991},{"p":"h","s":0,"t":257.1,"X":0.992},{"p":"h","s":0,"t":261.2,"X":0.993},{"p":"h","s":0,"t":265.3,"X":0.994},{"p":"h","s":0,"t":269.4,"X":0.995},{"p":"h","s":0,"t":273.5,"X":0.996},{"p":"h","s":0,"t":277.6,"X":0.996},{"p":"h","s":0,"t":281.7,"X":0.997},{"p":"h","s":0,"t":285.8,"X":0.997},
      {"p":"h","s":1,"t":2.9,"X":0.001},{"p":"h","s":1,"t":7.0,"X":0.008},{"p":"h","s":1,"t":11.1,"X":0.018},{"p":"h","s":1,"t":15.2,"X":0.032},{"p":"h","s":1,"t":19.3,"X":0.05,"f":1},{"p":"h","s":1,"t":23.4,"X":0.072,"f":1},{"p":"h","s":1,"t":27.5,"X":0.096,"f":1},{"p":"h","s":1,"t":31.6,"X":0.123,"f":1},{"p":"h","s":1,"t":35.7,"X":0.152,"f":1},{"p":"h","s":1,"t":39.8,"X":0.183,"f":1},{"p":"h","s":1,"t":43.9,"X":0.217,"f":1},{"p":"h","s":1,"t":48.0,"X":0.251,"f":1},{"p":"h","s":1,"t":52.1,"X":0.286,"f":1},{"p":"h","s":1,"t":56.2,"X":0.322,"f":1},{"p":"h","s":1,"t":60.3,"X":0.359,"f":1},{"p":"h","s":1,"t":64.4,"X":0.396,"f":1},{"p":"h","s":1,"t":68.5,"X":0.432,"f":1},{"p":"h","s":1,"t":72.6,"X":0.468,"f":1},{"p":"h","s":1,"t":76.7,"X":0.504,"f":1},{"p":"h","s":1,"t":80.8,"X":0.538,"f":1},{"p":"h","s":1,"t":84.9,"X":0.572,"f":1},{"p":"h","s":1,"t":89.0,"X":0.605,"f":1},{"p":"h","s":1,"t":93.1,"X":0.636,"f":1},{"p":"h","s":1,"t":97.2,"X":0.666,"f":1},{"p":"h","s":1,"t":101.3,"X":0.694,"f":1},{"p":"h","s":1,"t":105.4,"X":0.721,"f":1},{"p":"h","s":1,"t":109.5,"X":0.747,"f":1},{"p":"h","s":1,"t":113.6,"X":0.771,"f":1},{"p":"h","s":1,"t":117.7,"X":0.793,"f":1},{"p":"h","s":1,"t":121.8,"X":0.813,"f":1},{"p":"h","s":1,"t":125.9,"X":0.833,"f":1},{"p":"h","s":1,"t":130.0,"X":0.85,"f":1},{"p":"h","s":1,"t":134.1,"X":0.867,"f":1},{"p":"h","s":1,"t":138.2,"X":0.881,"f":1},{"p":"h","s":1,"t":142.3,"X":0.895,"f":1},{"p":"h","s":1,"t":146.4,"X":0.907,"f":1},{"p":"h","s":1,"t":150.5,"X":0.918,"f":1},{"p":"h","s":1,"t":154.6,"X":0.928,"f":1},{"p":"h","s":1,"t":158.7,"X":0.937,"f":1},{"p":"h","s":1,"t":162.8,"X":0.945,"f":1},{"p":"h","s":1,"t":166.9,"X":0.952,"f":1},{"p":"h","s":1,"t":171.0,"X":0.96},{"p":"h","s":1,"t":175.1,"X":0.966},{"p":"h","s":1,"t":179.2,"X":0.972},{"p":"h","s":1,"t":183.3,"X":0.977},{"p":"h","s":1,"t":187.4,"X":0.981},{"p":"h","s":1,"t":191.5,"X":0.985},{"p":"h","s":1,"t":195.6,"X":0.988},{"p":"h","s":1,"t":199.7,"X":0.99},{"p":"h","s":1,"t":203.8,"X":0.992},{"p":"h","s":1,"t":207.9,"X":0.994},{"p":"h","s":1,"t":212.0,"X":0.995},{"p":"h","s":1,"t":216.1,"X":0.996},{"p":"h","s":1,"t":220.2,"X":0.997},{"p":"h","s":1,"t":224.3,"X":0.997},{"p":"h","s":1,"t":228.4,"X":0.998},{"p":"h","s":1,"t":232.5,"X":0.998},{"p":"h","s":1,"t":236.6,"X":0.998},
      {"p":"h","s":2,"t":2.9,"X":0.002},{"p":"h","s":2,"t":7.0,"X":0.012},{"p":"h","s":2,"t":11.1,"X":0.03},{"p":"h","s":2,"t":15.2,"X":0.055,"f":1},{"p":"h","s":2,"t":19.3,"X":0.088,"f":1},{"p":"h","s":2,"t":23.4,"X":0.126,"f":1},{"p":"h","s":2,"t":27.5,"X":0.169,"f":1},{"p":"h","s":2,"t":31.6,"X":0.216,"f":1},{"p":"h","s":2,"t":35.7,"X":0.267,"f":1},{"p":"h","s":2,"t":39.8,"X":0.319,"f":1},{"p":"h","s":2,"t":43.9,"X":0.373,"f":1},{"p":"h","s":2,"t":48.0,"X":0.427,"f":1},{"p":"h","s":2,"t":52.1,"X":0.481,"f":1},{"p":"h","s":2,"t":56.2,"X":0.533,"f":1},{"p":"h","s":2,"t":60.3,"X":0.583,"f":1},{"p":"h","s":2,"t":64.4,"X":0.631,"f":1},{"p":"h","s":2,"t":68.5,"X":0.676,"f":1},{"p":"h","s":2,"t":72.6,"X":0.717,"f":1},{"p":"h","s":2,"t":76.7,"X":0.755,"f":1},{"p":"h","s":2,"t":80.8,"X":0.79,"f":1},{"p":"h","s":2,"t":84.9,"X":0.821,"f":1},{"p":"h","s":2,"t":89.0,"X":0.849,"f":1},{"p":"h","s":2,"t":93.1,"X":0.874,"f":1},{"p":"h","s":2,"t":97.2,"X":0.895,"f":1},{"p":"h","s":2,"t":101.3,"X":0.913,"f":1},{"p":"h","s":2,"t":105.4,"X":0.929,"f":1},{"p":"h","s":2,"t":109.5,"X":0.942,"f":1},{"p":"h","s":2,"t":113.6,"X":0.954},{"p":"h","s":2,"t":117.7,"X":0.964},{"p":"h","s":2,"t":121.8,"X":0.972},{"p":"h","s":2,"t":125.9,"X":0.978},{"p":"h","s":2,"t":130.0,"X":0.983},{"p":"h","s":2,"t":134.1,"X":0.987},{"p":"h","s":2,"t":138.2,"X":0.99},{"p":"h","s":2,"t":142.3,"X":0.992},{"p":"h","s":2,"t":146.4,"X":0.994},{"p":"h","s":2,"t":150.5,"X":0.995},{"p":"h","s":2,"t":154.6,"X":0.996},{"p":"h","s":2,"t":158.7,"X":0.997},{"p":"h","s":2,"t":162.8,"X":0.997},{"p":"h","s":2,"t":166.9,"X":0.998},
      {"p":"h","s":3,"t":2.9,"X":0.004},{"p":"h","s":3,"t":7.0,"X":0.022},{"p":"h","s":3,"t":11.1,"X":0.054,"f":1},{"p":"h","s":3,"t":15.2,"X":0.1,"f":1},{"p":"h","s":3,"t":19.3,"X":0.157,"f":1},{"p":"h","s":3,"t":23.4,"X":0.223,"f":1},{"p":"h","s":3,"t":27.5,"X":0.296,"f":1},{"p":"h","s":3,"t":31.6,"X":0.372,"f":1},{"p":"h","s":3,"t":35.7,"X":0.449,"f":1},{"p":"h","s":3,"t":39.8,"X":0.524,"f":1},{"p":"h","s":3,"t":43.9,"X":0.596,"f":1},{"p":"h","s":3,"t":48.0,"X":0.663,"f":1},{"p":"h","s":3,"t":52.1,"X":0.723,"f":1},{"p":"h","s":3,"t":56.2,"X":0.776,"f":1},{"p":"h","s":3,"t":60.3,"X":0.822,"f":1},{"p":"h","s":3,"t":64.4,"X":0.861,"f":1},{"p":"h","s":3,"t":68.5,"X":0.893,"f":1},{"p":"h","s":3,"t":72.6,"X":0.919,"f":1},{"p":"h","s":3,"t":76.7,"X":0.94,"f":1},{"p":"h","s":3,"t":80.8,"X":0.956,"f":1},{"p":"h","s":3,"t":84.9,"X":0.968},{"p":"h","s":3,"t":89.0,"X":0.977},{"p":"h","s":3,"t":93.1,"X":0.984},{"p":"h","s":3,"t":97.2,"X":0.989},{"p":"h","s":3,"t":101.3,"X":0.992},{"p":"h","s":3,"t":105.4,"X":0.994},{"p":"h","s":3,"t":109.5,"X":0.996},{"p":"h","s":3,"t":113.6,"X":0.997},{"p":"h","s":3,"t":117.7,"X":0.996},{"p":"h","s":3,"t":121.8,"X":0.995},{"p":"h","s":3,"t":125.9,"X":0.994},
      {"p":"h","s":4,"t":2.9,"X":0.007},{"p":"h","s":4,"t":7.0,"X":0.038},{"p":"h","s":4,"t":11.1,"X":0.093,"f":1},{"p":"h","s":4,"t":15.2,"X":0.168,"f":1},{"p":"h","s":4,"t":19.3,"X":0.256,"f":1},{"p":"h","s":4,"t":23.4,"X":0.353,"f":1},{"p":"h","s":4,"t":27.5,"X":0.452,"f":1},{"p":"h","s":4,"t":31.6,"X":0.548,"f":1},{"p":"h","s":4,"t":35.7,"X":0.637,"f":1},{"p":"h","s":4,"t":39.8,"X":0.716,"f":1},{"p":"h","s":4,"t":43.9,"X":0.784,"f":1},{"p":"h","s":4,"t":48.0,"X":0.84,"f":1},{"p":"h","s":4,"t":52.1,"X":0.885,"f":1},{"p":"h","s":4,"t":56.2,"X":0.919,"f":1},{"p":"h","s":4,"t":60.3,"X":0.945,"f":1},{"p":"h","s":4,"t":64.4,"X":0.962},{"p":"h","s":4,"t":68.5,"X":0.975},{"p":"h","s":4,"t":72.6,"X":0.984},{"p":"h","s":4,"t":76.7,"X":0.99},{"p":"h","s":4,"t":80.8,"X":0.994},
      {"p":"i","s":0,"t":2.9,"X":0.0},{"p":"i","s":0,"t":7.0,"X":0.001},{"p":"i","s":0,"t":11.1,"X":0.002},{"p":"i","s":0,"t":15.2,"X":0.004},{"p":"i","s":0,"t":19.3,"X":0.007},{"p":"i","s":0,"t":23.4,"X":0.011},{"p":"i","s":0,"t":27.5,"X":0.016},{"p":"i","s":0,"t":31.6,"X":0.022},{"p":"i","s":0,"t":35.7,"X":0.029,"f":1},{"p":"i","s":0,"t":39.8,"X":0.037,"f":1},{"p":"i","s":0,"t":43.9,"X":0.046,"f":1},{"p":"i","s":0,"t":48.0,"X":0.057,"f":1},{"p":"i","s":0,"t":52.1,"X":0.068,"f":1},{"p":"i","s":0,"t":56.2,"X":0.081,"f":1},{"p":"i","s":0,"t":60.3,"X":0.094,"f":1},{"p":"i","s":0,"t":64.4,"X":0.109,"f":1},{"p":"i","s":0,"t":68.5,"X":0.125,"f":1},{"p":"i","s":0,"t":72.6,"X":0.141,"f":1},{"p":"i","s":0,"t":76.7,"X":0.159,"f":1},{"p":"i","s":0,"t":80.8,"X":0.177,"f":1},{"p":"i","s":0,"t":84.9,"X":0.197,"f":1},{"p":"i","s":0,"t":89.0,"X":0.217,"f":1},{"p":"i","s":0,"t":93.1,"X":0.238,"f":1},{"p":"i","s":0,"t":97.2,"X":0.259,"f":1},{"p":"i","s":0,"t":101.3,"X":0.281,"f":1},{"p":"i","s":0,"t":105.4,"X":0.304,"f":1},{"p":"i","s":0,"t":109.5,"X":0.327,"f":1},{"p":"i","s":0,"t":113.6,"X":0.35,"f":1},{"p":"i","s":0,"t":117.7,"X":0.373,"f":1},{"p":"i","s":0,"t":121.8,"X":0.397,"f":1},{"p":"i","s":0,"t":125.9,"X":0.421,"f":1},{"p":"i","s":0,"t":130.0,"X":0.445,"f":1},{"p":"i","s":0,"t":134.1,"X":0.469,"f":1},{"p":"i","s":0,"t":138.2,"X":0.493,"f":1},{"p":"i","s":0,"t":142.3,"X":0.516,"f":1},{"p":"i","s":0,"t":146.4,"X":0.539,"f":1},{"p":"i","s":0,"t":150.5,"X":0.563,"f":1},{"p":"i","s":0,"t":154.6,"X":0.585,"f":1},{"p":"i","s":0,"t":158.7,"X":0.607,"f":1},{"p":"i","s":0,"t":162.8,"X":0.63,"f":1},{"p":"i","s":0,"t":166.9,"X":0.65,"f":1},{"p":"i","s":0,"t":171.0,"X":0.671,"f":1},{"p":"i","s":0,"t":175.1,"X":0.691,"f":1},{"p":"i","s":0,"t":179.2,"X":0.71,"f":1},{"p":"i","s":0,"t":183.3,"X":0.729,"f":1},{"p":"i","s":0,"t":187.4,"X":0.747,"f":1},{"p":"i","s":0,"t":191.5,"X":0.765,"f":1},{"p":"i","s":0,"t":195.6,"X":0.781,"f":1},{"p":"i","s":0,"t":199.7,"X":0.797,"f":1},{"p":"i","s":0,"t":203.8,"X":0.812,"f":1},{"p":"i","s":0,"t":207.9,"X":0.826,"f":1},{"p":"i","s":0,"t":212.0,"X":0.84,"f":1},{"p":"i","s":0,"t":216.1,"X":0.853,"f":1},{"p":"i","s":0,"t":220.2,"X":0.865,"f":1},{"p":"i","s":0,"t":224.3,"X":0.876,"f":1},{"p":"i","s":0,"t":228.4,"X":0.886,"f":1},{"p":"i","s":0,"t":232.5,"X":0.897,"f":1},{"p":"i","s":0,"t":236.6,"X":0.906,"f":1},{"p":"i","s":0,"t":240.7,"X":0.915,"f":1},{"p":"i","s":0,"t":244.8,"X":0.923,"f":1},{"p":"i","s":0,"t":248.9,"X":0.93,"f":1},{"p":"i","s":0,"t":253.0,"X":0.936,"f":1},{"p":"i","s":0,"t":257.1,"X":0.943,"f":1},{"p":"i","s":0,"t":261.2,"X":0.949,"f":1},{"p":"i","s":0,"t":265.3,"X":0.954,"f":1},{"p":"i","s":0,"t":269.4,"X":0.959},{"p":"i","s":0,"t":273.5,"X":0.963},{"p":"i","s":0,"t":277.6,"X":0.967},{"p":"i","s":0,"t":281.7,"X":0.97},{"p":"i","s":0,"t":285.8,"X":0.973},{"p":"i","s":0,"t":289.9,"X":0.976},{"p":"i","s":0,"t":294.0,"X":0.979},{"p":"i","s":0,"t":298.1,"X":0.981},{"p":"i","s":0,"t":302.2,"X":0.983},{"p":"i","s":0,"t":306.3,"X":0.985},{"p":"i","s":0,"t":310.4,"X":0.987},{"p":"i","s":0,"t":314.5,"X":0.988},{"p":"i","s":0,"t":318.6,"X":0.989},{"p":"i","s":0,"t":322.7,"X":0.99},{"p":"i","s":0,"t":326.8,"X":0.991},{"p":"i","s":0,"t":330.9,"X":0.992},{"p":"i","s":0,"t":335.0,"X":0.993},{"p":"i","s":0,"t":339.1,"X":0.994},
      {"p":"i","s":1,"t":2.9,"X":0.0},{"p":"i","s":1,"t":7.0,"X":0.003},{"p":"i","s":1,"t":11.1,"X":0.007},{"p":"i","s":1,"t":15.2,"X":0.013},{"p":"i","s":1,"t":19.3,"X":0.022},{"p":"i","s":1,"t":23.4,"X":0.033},{"p":"i","s":1,"t":27.5,"X":0.046,"f":1},{"p":"i","s":1,"t":31.6,"X":0.061,"f":1},{"p":"i","s":1,"t":35.7,"X":0.078,"f":1},{"p":"i","s":1,"t":39.8,"X":0.097,"f":1},{"p":"i","s":1,"t":43.9,"X":0.118,"f":1},{"p":"i","s":1,"t":48.0,"X":0.14,"f":1},{"p":"i","s":1,"t":52.1,"X":0.165,"f":1},{"p":"i","s":1,"t":56.2,"X":0.19,"f":1},{"p":"i","s":1,"t":60.3,"X":0.217,"f":1},{"p":"i","s":1,"t":64.4,"X":0.245,"f":1},{"p":"i","s":1,"t":68.5,"X":0.274,"f":1},{"p":"i","s":1,"t":72.6,"X":0.303,"f":1},{"p":"i","s":1,"t":76.7,"X":0.333,"f":1},{"p":"i","s":1,"t":80.8,"X":0.364,"f":1},{"p":"i","s":1,"t":84.9,"X":0.394,"f":1},{"p":"i","s":1,"t":89.0,"X":0.426,"f":1},{"p":"i","s":1,"t":93.1,"X":0.456,"f":1},{"p":"i","s":1,"t":97.2,"X":0.487,"f":1},{"p":"i","s":1,"t":101.3,"X":0.517,"f":1},{"p":"i","s":1,"t":105.4,"X":0.546,"f":1},{"p":"i","s":1,"t":109.5,"X":0.575,"f":1},{"p":"i","s":1,"t":113.6,"X":0.604,"f":1},{"p":"i","s":1,"t":117.7,"X":0.631,"f":1},{"p":"i","s":1,"t":121.8,"X":0.657,"f":1},{"p":"i","s":1,"t":125.9,"X":0.682,"f":1},{"p":"i","s":1,"t":130.0,"X":0.707,"f":1},{"p":"i","s":1,"t":134.1,"X":0.73,"f":1},{"p":"i","s":1,"t":138.2,"X":0.753,"f":1},{"p":"i","s":1,"t":142.3,"X":0.773,"f":1},{"p":"i","s":1,"t":146.4,"X":0.793,"f":1},{"p":"i","s":1,"t":150.5,"X":0.812,"f":1},{"p":"i","s":1,"t":154.6,"X":0.829,"f":1},{"p":"i","s":1,"t":158.7,"X":0.845,"f":1},{"p":"i","s":1,"t":162.8,"X":0.861,"f":1},{"p":"i","s":1,"t":166.9,"X":0.874,"f":1},{"p":"i","s":1,"t":171.0,"X":0.887,"f":1},{"p":"i","s":1,"t":175.1,"X":0.899,"f":1},{"p":"i","s":1,"t":179.2,"X":0.91,"f":1},{"p":"i","s":1,"t":183.3,"X":0.92,"f":1},{"p":"i","s":1,"t":187.4,"X":0.929,"f":1},{"p":"i","s":1,"t":191.5,"X":0.937,"f":1},{"p":"i","s":1,"t":195.6,"X":0.945,"f":1},{"p":"i","s":1,"t":199.7,"X":0.951,"f":1},{"p":"i","s":1,"t":203.8,"X":0.957},{"p":"i","s":1,"t":207.9,"X":0.963},{"p":"i","s":1,"t":212.0,"X":0.968},{"p":"i","s":1,"t":216.1,"X":0.972},{"p":"i","s":1,"t":220.2,"X":0.976},{"p":"i","s":1,"t":224.3,"X":0.98},{"p":"i","s":1,"t":228.4,"X":0.983},{"p":"i","s":1,"t":232.5,"X":0.986},{"p":"i","s":1,"t":236.6,"X":0.988},{"p":"i","s":1,"t":240.7,"X":0.99},{"p":"i","s":1,"t":244.8,"X":0.992},{"p":"i","s":1,"t":248.9,"X":0.993},{"p":"i","s":1,"t":253.0,"X":0.994},
      {"p":"i","s":2,"t":2.9,"X":0.001},{"p":"i","s":2,"t":7.0,"X":0.007},{"p":"i","s":2,"t":11.1,"X":0.019},{"p":"i","s":2,"t":15.2,"X":0.036},{"p":"i","s":2,"t":19.3,"X":0.058,"f":1},{"p":"i","s":2,"t":23.4,"X":0.085,"f":1},{"p":"i","s":2,"t":27.5,"X":0.116,"f":1},{"p":"i","s":2,"t":31.6,"X":0.152,"f":1},{"p":"i","s":2,"t":35.7,"X":0.191,"f":1},{"p":"i","s":2,"t":39.8,"X":0.233,"f":1},{"p":"i","s":2,"t":43.9,"X":0.277,"f":1},{"p":"i","s":2,"t":48.0,"X":0.323,"f":1},{"p":"i","s":2,"t":52.1,"X":0.37,"f":1},{"p":"i","s":2,"t":56.2,"X":0.417,"f":1},{"p":"i","s":2,"t":60.3,"X":0.464,"f":1},{"p":"i","s":2,"t":64.4,"X":0.511,"f":1},{"p":"i","s":2,"t":68.5,"X":0.556,"f":1},{"p":"i","s":2,"t":72.6,"X":0.6,"f":1},{"p":"i","s":2,"t":76.7,"X":0.641,"f":1},{"p":"i","s":2,"t":80.8,"X":0.68,"f":1},{"p":"i","s":2,"t":84.9,"X":0.717,"f":1},{"p":"i","s":2,"t":89.0,"X":0.752,"f":1},{"p":"i","s":2,"t":93.1,"X":0.783,"f":1},{"p":"i","s":2,"t":97.2,"X":0.812,"f":1},{"p":"i","s":2,"t":101.3,"X":0.838,"f":1},{"p":"i","s":2,"t":105.4,"X":0.861,"f":1},{"p":"i","s":2,"t":109.5,"X":0.882,"f":1},{"p":"i","s":2,"t":113.6,"X":0.9,"f":1},{"p":"i","s":2,"t":117.7,"X":0.916,"f":1},{"p":"i","s":2,"t":121.8,"X":0.93,"f":1},{"p":"i","s":2,"t":125.9,"X":0.942,"f":1},{"p":"i","s":2,"t":130.0,"X":0.952,"f":1},{"p":"i","s":2,"t":134.1,"X":0.961},{"p":"i","s":2,"t":138.2,"X":0.968},{"p":"i","s":2,"t":142.3,"X":0.974},{"p":"i","s":2,"t":146.4,"X":0.979},{"p":"i","s":2,"t":150.5,"X":0.984},{"p":"i","s":2,"t":154.6,"X":0.987},{"p":"i","s":2,"t":158.7,"X":0.99},{"p":"i","s":2,"t":162.8,"X":0.992},{"p":"i","s":2,"t":166.9,"X":0.993},
      {"p":"i","s":3,"t":2.9,"X":0.002},{"p":"i","s":3,"t":7.0,"X":0.012},{"p":"i","s":3,"t":11.1,"X":0.033},{"p":"i","s":3,"t":15.2,"X":0.064,"f":1},{"p":"i","s":3,"t":19.3,"X":0.106,"f":1},{"p":"i","s":3,"t":23.4,"X":0.158,"f":1},{"p":"i","s":3,"t":27.5,"X":0.217,"f":1},{"p":"i","s":3,"t":31.6,"X":0.282,"f":1},{"p":"i","s":3,"t":35.7,"X":0.351,"f":1},{"p":"i","s":3,"t":39.8,"X":0.422,"f":1},{"p":"i","s":3,"t":43.9,"X":0.494,"f":1},{"p":"i","s":3,"t":48.0,"X":0.562,"f":1},{"p":"i","s":3,"t":52.1,"X":0.628,"f":1},{"p":"i","s":3,"t":56.2,"X":0.689,"f":1},{"p":"i","s":3,"t":60.3,"X":0.744,"f":1},{"p":"i","s":3,"t":64.4,"X":0.793,"f":1},{"p":"i","s":3,"t":68.5,"X":0.835,"f":1},{"p":"i","s":3,"t":72.6,"X":0.871,"f":1},{"p":"i","s":3,"t":76.7,"X":0.901,"f":1},{"p":"i","s":3,"t":80.8,"X":0.925,"f":1},{"p":"i","s":3,"t":84.9,"X":0.944,"f":1},{"p":"i","s":3,"t":89.0,"X":0.96},{"p":"i","s":3,"t":93.1,"X":0.972},{"p":"i","s":3,"t":97.2,"X":0.981},{"p":"i","s":3,"t":101.3,"X":0.987},{"p":"i","s":3,"t":105.4,"X":0.991},{"p":"i","s":3,"t":109.5,"X":0.994},{"p":"i","s":3,"t":113.6,"X":0.996},{"p":"i","s":3,"t":117.7,"X":0.997},
      {"p":"i","s":4,"t":2.9,"X":0.007},{"p":"i","s":4,"t":7.0,"X":0.04},{"p":"i","s":4,"t":11.1,"X":0.099,"f":1},{"p":"i","s":4,"t":15.2,"X":0.179,"f":1},{"p":"i","s":4,"t":19.3,"X":0.275,"f":1},{"p":"i","s":4,"t":23.4,"X":0.379,"f":1},{"p":"i","s":4,"t":27.5,"X":0.484,"f":1},{"p":"i","s":4,"t":31.6,"X":0.584,"f":1},{"p":"i","s":4,"t":35.7,"X":0.676,"f":1},{"p":"i","s":4,"t":39.8,"X":0.755,"f":1},{"p":"i","s":4,"t":43.9,"X":0.82,"f":1},{"p":"i","s":4,"t":48.0,"X":0.872,"f":1},{"p":"i","s":4,"t":52.1,"X":0.912,"f":1},{"p":"i","s":4,"t":56.2,"X":0.942,"f":1},{"p":"i","s":4,"t":60.3,"X":0.962},{"p":"i","s":4,"t":64.4,"X":0.975},{"p":"i","s":4,"t":68.5,"X":0.985},{"p":"i","s":4,"t":72.6,"X":0.991},{"p":"i","s":4,"t":76.7,"X":0.995},{"p":"i","s":4,"t":80.8,"X":0.997}
    ]
  },
  "bounds": "flush",
  "columns": 3,
  "spacing": {"row": 47, "column": 114},
  "resolve": {"scale": {"x": "independent", "y": "independent", "fill": "independent", "stroke": "independent"}, "legend": {"fill": "independent", "stroke": "independent"}},
  "concat": [
    {"width": 466, "height": 86, "view": {"fill": "#d9d9d9", "stroke": "#b3b3b3", "strokeWidth": 1.5}, "data": {"values": [{"b": "Batch 1"}]}, "mark": {"type": "text", "font": "Lato", "fontSize": 60, "align": "center", "baseline": "middle", "color": "black"}, "encoding": {"text": {"field": "b"}}},
    {"width": 466, "height": 86, "view": {"fill": "#d9d9d9", "stroke": "#b3b3b3", "strokeWidth": 1.5}, "data": {"values": [{"b": "Batch 2"}]}, "mark": {"type": "text", "font": "Lato", "fontSize": 60, "align": "center", "baseline": "middle", "color": "black"}, "encoding": {"text": {"field": "b"}}},
    {"width": 466, "height": 86, "view": {"fill": "#d9d9d9", "stroke": "#b3b3b3", "strokeWidth": 1.5}, "data": {"values": [{"b": "Batch 3"}]}, "mark": {"type": "text", "font": "Lato", "fontSize": 60, "align": "center", "baseline": "middle", "color": "black"}, "encoding": {"text": {"field": "b"}}},
    {
      "width": 466, "height": 466, "title": {"text": "(a)"},
      "layer": [
        {"data": {"name": "A"}, "transform": [{"filter": "datum.p=='a'"}], "mark": {"type": "circle", "size": 90, "opacity": 0.85, "clip": true},
         "encoding": {"x": {"field": "x", "type": "quantitative", "scale": {"domain": [2.2, 5.5], "nice": false, "zero": false}, "axis": {"values": [2.5, 3, 3.5, 4, 4.5, 5, 5.5], "format": ".1f", "title": "ln(t)"}},
                      "y": {"field": "y", "type": "quantitative", "scale": {"domain": [-4.5, 1.2], "nice": false, "zero": false}, "axis": {"values": [-4, -3, -2, -1, 0, 1], "format": "d", "title": "ln[−ln(1 − X)]"}},
                      "fill": {"field": "s", "type": "nominal", "scale": {"domain": [4, 3, 2, 1, 0], "range": ["#e6bd57", "#2a8f79", "#bc91cf", "#84acd8", "#e97b70"]}, "legend": null}}},
        {"data": {"name": "AF"}, "transform": [{"filter": "datum.p=='a'"}], "mark": {"type": "line", "strokeWidth": 2, "clip": true},
         "encoding": {"x": {"field": "x", "type": "quantitative"}, "y": {"field": "y", "type": "quantitative"},
                      "stroke": {"field": "s", "type": "nominal", "scale": {"domain": [0, 1, 2, 3, 4], "range": ["#e97b70", "#84acd8", "#bc91cf", "#2a8f79", "#e6bd57"]}, "legend": {"orient": "bottom-right", "title": null, "symbolType": "M-1.9,0H1.9", "symbolStrokeWidth": 2.5, "labelExpr": "['809 °C: R²=0.987','816 °C: R²=0.997','833 °C: R²=0.999','841 °C: R²=0.999','845 °C: R²=0.997'][datum.value]"}}}}
      ]
    },
    {
      "width": 466, "height": 466, "title": {"text": "(b)"},
      "layer": [
        {"data": {"name": "A"}, "transform": [{"filter": "datum.p=='b'"}], "mark": {"type": "circle", "size": 90, "opacity": 0.85, "clip": true},
         "encoding": {"x": {"field": "x", "type": "quantitative", "scale": {"domain": [2.2, 5.5], "nice": false, "zero": false}, "axis": {"values": [2.5, 3, 3.5, 4, 4.5, 5, 5.5], "format": ".1f", "title": "ln(t)"}},
                      "y": {"field": "y", "type": "quantitative", "scale": {"domain": [-4.5, 1.2], "nice": false, "zero": false}, "axis": {"values": [-4, -3, -2, -1, 0, 1], "format": "d", "title": "ln[−ln(1 − X)]"}},
                      "fill": {"field": "s", "type": "nominal", "scale": {"domain": [4, 3, 2, 1, 0], "range": ["#e6bd57", "#2a8f79", "#bc91cf", "#84acd8", "#e97b70"]}, "legend": null}}},
        {"data": {"name": "AF"}, "transform": [{"filter": "datum.p=='b'"}], "mark": {"type": "line", "strokeWidth": 2, "clip": true},
         "encoding": {"x": {"field": "x", "type": "quantitative"}, "y": {"field": "y", "type": "quantitative"},
                      "stroke": {"field": "s", "type": "nominal", "scale": {"domain": [0, 1, 2, 3, 4], "range": ["#e97b70", "#84acd8", "#bc91cf", "#2a8f79", "#e6bd57"]}, "legend": {"orient": "bottom-right", "title": null, "symbolType": "M-1.9,0H1.9", "symbolStrokeWidth": 2.5, "labelExpr": "['810 °C: R²=0.998','818 °C: R²=0.999','825 °C: R²=0.998','837 °C: R²=0.996','846 °C: R²=0.996'][datum.value]"}}}}
      ]
    },
    {
      "width": 466, "height": 466, "title": {"text": "(c)"},
      "layer": [
        {"data": {"name": "A"}, "transform": [{"filter": "datum.p=='c'"}], "mark": {"type": "circle", "size": 90, "opacity": 0.85, "clip": true},
         "encoding": {"x": {"field": "x", "type": "quantitative", "scale": {"domain": [2.2, 5.5], "nice": false, "zero": false}, "axis": {"values": [2.5, 3, 3.5, 4, 4.5, 5, 5.5], "format": ".1f", "title": "ln(t)"}},
                      "y": {"field": "y", "type": "quantitative", "scale": {"domain": [-4.5, 1.2], "nice": false, "zero": false}, "axis": {"values": [-4, -3, -2, -1, 0, 1], "format": "d", "title": "ln[−ln(1 − X)]"}},
                      "fill": {"field": "s", "type": "nominal", "scale": {"domain": [4, 3, 2, 1, 0], "range": ["#e6bd57", "#2a8f79", "#bc91cf", "#84acd8", "#e97b70"]}, "legend": null}}},
        {"data": {"name": "AF"}, "transform": [{"filter": "datum.p=='c'"}], "mark": {"type": "line", "strokeWidth": 2, "clip": true},
         "encoding": {"x": {"field": "x", "type": "quantitative"}, "y": {"field": "y", "type": "quantitative"},
                      "stroke": {"field": "s", "type": "nominal", "scale": {"domain": [0, 1, 2, 3, 4], "range": ["#e97b70", "#84acd8", "#bc91cf", "#2a8f79", "#e6bd57"]}, "legend": {"orient": "bottom-right", "title": null, "symbolType": "M-1.9,0H1.9", "symbolStrokeWidth": 2.5, "labelExpr": "['809 °C: R²=0.991','813 °C: R²=0.998','829 °C: R²=0.999','835 °C: R²=0.998','857 °C: R²=0.999'][datum.value]"}}}}
      ]
    },
    {"width": 466, "height": 6, "view": {"stroke": null, "fill": null}, "data": {"values": []}, "mark": "point", "encoding": {}},
    {"width": 466, "height": 6, "view": {"stroke": null, "fill": null}, "data": {"values": []}, "mark": "point", "encoding": {}},
    {"width": 466, "height": 6, "view": {"stroke": null, "fill": null}, "data": {"values": []}, "mark": "point", "encoding": {}},
    {
      "width": 466, "height": 466, "title": {"text": "(d)"},
      "data": {"name": "N"}, "transform": [{"filter": "datum.p=='d'"}],
      "encoding": {"x": {"field": "x", "type": "quantitative", "scale": {"domain": [0, 1], "nice": false, "zero": false}, "axis": {"values": [0, 0.2, 0.4, 0.6, 0.8, 1], "format": ".1f", "title": "X", "titleFontStyle": "italic"}},
                   "y": {"field": "y", "type": "quantitative", "scale": {"domain": [1, 3], "nice": false, "zero": false}, "axis": {"values": [1.5, 2, 2.5, 3], "format": ".1f", "title": "Instantaneous n"}}},
      "layer": [
        {"mark": {"type": "line", "strokeWidth": 2.5}, "encoding": {"stroke": {"field": "s", "type": "nominal", "scale": {"domain": [1, 2, 3, 4], "range": ["#84acd8", "#bc91cf", "#2a8f79", "#e6bd57"]}, "legend": {"orient": "top-right", "title": null, "symbolType": "M-1.9,0H1.9M0.55,0A0.55,0.55,0,1,1,-0.55,0A0.55,0.55,0,1,1,0.55,0Z", "symbolStrokeWidth": 2.5, "labelExpr": "['','816 °C','833 °C','841 °C','845 °C'][datum.value]"}}}},
        {"mark": {"type": "circle", "size": 100, "opacity": 1}, "encoding": {"fill": {"field": "s", "type": "nominal", "scale": {"domain": [1, 2, 3, 4], "range": ["#84acd8", "#bc91cf", "#2a8f79", "#e6bd57"]}, "legend": {"orient": "top-right", "title": null, "symbolType": "M-1.9,0H1.9M0.55,0A0.55,0.55,0,1,1,-0.55,0A0.55,0.55,0,1,1,0.55,0Z", "symbolStrokeWidth": 2.5, "labelExpr": "['','816 °C','833 °C','841 °C','845 °C'][datum.value]"}}}}
      ]
    },
    {
      "width": 466, "height": 466, "title": {"text": "(e)"},
      "data": {"name": "N"}, "transform": [{"filter": "datum.p=='e'"}],
      "encoding": {"x": {"field": "x", "type": "quantitative", "scale": {"domain": [0, 1], "nice": false, "zero": false}, "axis": {"values": [0, 0.2, 0.4, 0.6, 0.8, 1], "format": ".1f", "title": "X", "titleFontStyle": "italic"}},
                   "y": {"field": "y", "type": "quantitative", "scale": {"domain": [1, 3], "nice": false, "zero": false}, "axis": {"values": [1.5, 2, 2.5, 3], "format": ".1f", "title": "Instantaneous n"}}},
      "layer": [
        {"mark": {"type": "line", "strokeWidth": 2.5}, "encoding": {"stroke": {"field": "s", "type": "nominal", "scale": {"domain": [1, 2, 3, 4], "range": ["#84acd8", "#bc91cf", "#2a8f79", "#e6bd57"]}, "legend": {"orient": "top-right", "title": null, "symbolType": "M-1.9,0H1.9M0.55,0A0.55,0.55,0,1,1,-0.55,0A0.55,0.55,0,1,1,0.55,0Z", "symbolStrokeWidth": 2.5, "labelExpr": "['','818 °C','825 °C','837 °C','846 °C'][datum.value]"}}}},
        {"mark": {"type": "circle", "size": 100, "opacity": 1}, "encoding": {"fill": {"field": "s", "type": "nominal", "scale": {"domain": [1, 2, 3, 4], "range": ["#84acd8", "#bc91cf", "#2a8f79", "#e6bd57"]}, "legend": {"orient": "top-right", "title": null, "symbolType": "M-1.9,0H1.9M0.55,0A0.55,0.55,0,1,1,-0.55,0A0.55,0.55,0,1,1,0.55,0Z", "symbolStrokeWidth": 2.5, "labelExpr": "['','818 °C','825 °C','837 °C','846 °C'][datum.value]"}}}}
      ]
    },
    {
      "width": 466, "height": 466, "title": {"text": "(f)"},
      "data": {"name": "N"}, "transform": [{"filter": "datum.p=='f'"}],
      "encoding": {"x": {"field": "x", "type": "quantitative", "scale": {"domain": [0, 1], "nice": false, "zero": false}, "axis": {"values": [0, 0.2, 0.4, 0.6, 0.8, 1], "format": ".1f", "title": "X", "titleFontStyle": "italic"}},
                   "y": {"field": "y", "type": "quantitative", "scale": {"domain": [1, 3], "nice": false, "zero": false}, "axis": {"values": [1.5, 2, 2.5, 3], "format": ".1f", "title": "Instantaneous n"}}},
      "layer": [
        {"mark": {"type": "line", "strokeWidth": 2.5}, "encoding": {"stroke": {"field": "s", "type": "nominal", "scale": {"domain": [1, 2, 3, 4], "range": ["#84acd8", "#bc91cf", "#2a8f79", "#e6bd57"]}, "legend": {"orient": "top-right", "title": null, "symbolType": "M-1.9,0H1.9M0.55,0A0.55,0.55,0,1,1,-0.55,0A0.55,0.55,0,1,1,0.55,0Z", "symbolStrokeWidth": 2.5, "labelExpr": "['','813 °C','829 °C','835 °C','857 °C'][datum.value]"}}}},
        {"mark": {"type": "circle", "size": 100, "opacity": 1}, "encoding": {"fill": {"field": "s", "type": "nominal", "scale": {"domain": [1, 2, 3, 4], "range": ["#84acd8", "#bc91cf", "#2a8f79", "#e6bd57"]}, "legend": {"orient": "top-right", "title": null, "symbolType": "M-1.9,0H1.9M0.55,0A0.55,0.55,0,1,1,-0.55,0A0.55,0.55,0,1,1,0.55,0Z", "symbolStrokeWidth": 2.5, "labelExpr": "['','813 °C','829 °C','835 °C','857 °C'][datum.value]"}}}}
      ]
    },
    {"width": 466, "height": 6, "view": {"stroke": null, "fill": null}, "data": {"values": []}, "mark": "point", "encoding": {}},
    {"width": 466, "height": 6, "view": {"stroke": null, "fill": null}, "data": {"values": []}, "mark": "point", "encoding": {}},
    {"width": 466, "height": 6, "view": {"stroke": null, "fill": null}, "data": {"values": []}, "mark": "point", "encoding": {}},
    {
      "width": 466, "height": 466, "title": {"text": "(g)"},
      "data": {"name": "K"}, "transform": [{"filter": "datum.p=='g'"}],
      "encoding": {"x": {"field": "t", "type": "quantitative", "scale": {"domain": [0, 350], "nice": false, "zero": false}, "axis": {"values": [0, 100, 200, 300], "title": "Time (min)"}},
                   "y": {"field": "X", "type": "quantitative", "scale": {"domain": [-0.05, 1.05], "nice": false, "zero": false}, "axis": {"values": [0, 0.2, 0.4, 0.6, 0.8, 1], "format": ".1f", "title": "X"}}},
      "layer": [
        {"mark": {"type": "circle", "size": 80, "opacity": 0.4}, "encoding": {"fill": {"field": "s", "type": "nominal", "scale": {"domain": [4, 3, 2, 1, 0], "range": ["#e6bd57", "#2a8f79", "#bc91cf", "#84acd8", "#e97b70"]}, "legend": null}}},
        {"transform": [{"filter": "datum.f==1"}], "mark": {"type": "line", "strokeWidth": 2}, "encoding": {"stroke": {"field": "s", "type": "nominal", "scale": {"domain": [0, 1, 2, 3, 4], "range": ["#e97b70", "#84acd8", "#bc91cf", "#2a8f79", "#e6bd57"]}, "legend": {"orient": "bottom-right", "title": null, "symbolType": "M-1.9,0H1.9", "symbolStrokeWidth": 2.5, "labelExpr": "['809 °C: n=2.00, k=8.17e-03','816 °C: n=2.16, k=1.00e-02','833 °C: n=2.06, k=1.54e-02','841 °C: n=2.06, k=2.19e-02','845 °C: n=2.10, k=2.80e-02'][datum.value]"}}}}
      ]
    },
    {
      "width": 466, "height": 466, "title": {"text": "(h)"},
      "data": {"name": "K"}, "transform": [{"filter": "datum.p=='h'"}],
      "encoding": {"x": {"field": "t", "type": "quantitative", "scale": {"domain": [0, 350], "nice": false, "zero": false}, "axis": {"values": [0, 100, 200, 300], "title": "Time (min)"}},
                   "y": {"field": "X", "type": "quantitative", "scale": {"domain": [-0.05, 1.05], "nice": false, "zero": false}, "axis": {"values": [0, 0.2, 0.4, 0.6, 0.8, 1], "format": ".1f", "title": "X"}}},
      "layer": [
        {"mark": {"type": "circle", "size": 80, "opacity": 0.4}, "encoding": {"fill": {"field": "s", "type": "nominal", "scale": {"domain": [4, 3, 2, 1, 0], "range": ["#e6bd57", "#2a8f79", "#bc91cf", "#84acd8", "#e97b70"]}, "legend": null}}},
        {"transform": [{"filter": "datum.f==1"}], "mark": {"type": "line", "strokeWidth": 2}, "encoding": {"stroke": {"field": "s", "type": "nominal", "scale": {"domain": [0, 1, 2, 3, 4], "range": ["#e97b70", "#84acd8", "#bc91cf", "#2a8f79", "#e6bd57"]}, "legend": {"orient": "bottom-right", "title": null, "symbolType": "M-1.9,0H1.9", "symbolStrokeWidth": 2.5, "labelExpr": "['810 °C: n=2.24, k=7.89e-03','818 °C: n=1.89, k=1.08e-02','825 °C: n=1.98, k=1.55e-02','837 °C: n=2.03, k=2.17e-02','846 °C: n=2.00, k=2.82e-02'][datum.value]"}}}}
      ]
    },
    {
      "width": 466, "height": 466, "title": {"text": "(i)"},
      "data": {"name": "K"}, "transform": [{"filter": "datum.p=='i'"}],
      "encoding": {"x": {"field": "t", "type": "quantitative", "scale": {"domain": [0, 350], "nice": false, "zero": false}, "axis": {"values": [0, 100, 200, 300], "title": "Time (min)"}},
                   "y": {"field": "X", "type": "quantitative", "scale": {"domain": [-0.05, 1.05], "nice": false, "zero": false}, "axis": {"values": [0, 0.2, 0.4, 0.6, 0.8, 1], "format": ".1f", "title": "X"}}},
      "layer": [
        {"mark": {"type": "circle", "size": 80, "opacity": 0.4}, "encoding": {"fill": {"field": "s", "type": "nominal", "scale": {"domain": [4, 3, 2, 1, 0], "range": ["#e6bd57", "#2a8f79", "#bc91cf", "#84acd8", "#e97b70"]}, "legend": null}}},
        {"transform": [{"filter": "datum.f==1"}], "mark": {"type": "line", "strokeWidth": 2}, "encoding": {"stroke": {"field": "s", "type": "nominal", "scale": {"domain": [0, 1, 2, 3, 4], "range": ["#e97b70", "#84acd8", "#bc91cf", "#2a8f79", "#e6bd57"]}, "legend": {"orient": "bottom-right", "title": null, "symbolType": "M-1.9,0H1.9", "symbolStrokeWidth": 2.5, "labelExpr": "['809 °C: n=2.32, k=6.12e-03','813 °C: n=2.10, k=8.48e-03','829 °C: n=2.06, k=1.32e-02','835 °C: n=2.19, k=1.91e-02','857 °C: n=2.04, k=2.97e-02'][datum.value]"}}}}
      ]
    }
  ]
}
